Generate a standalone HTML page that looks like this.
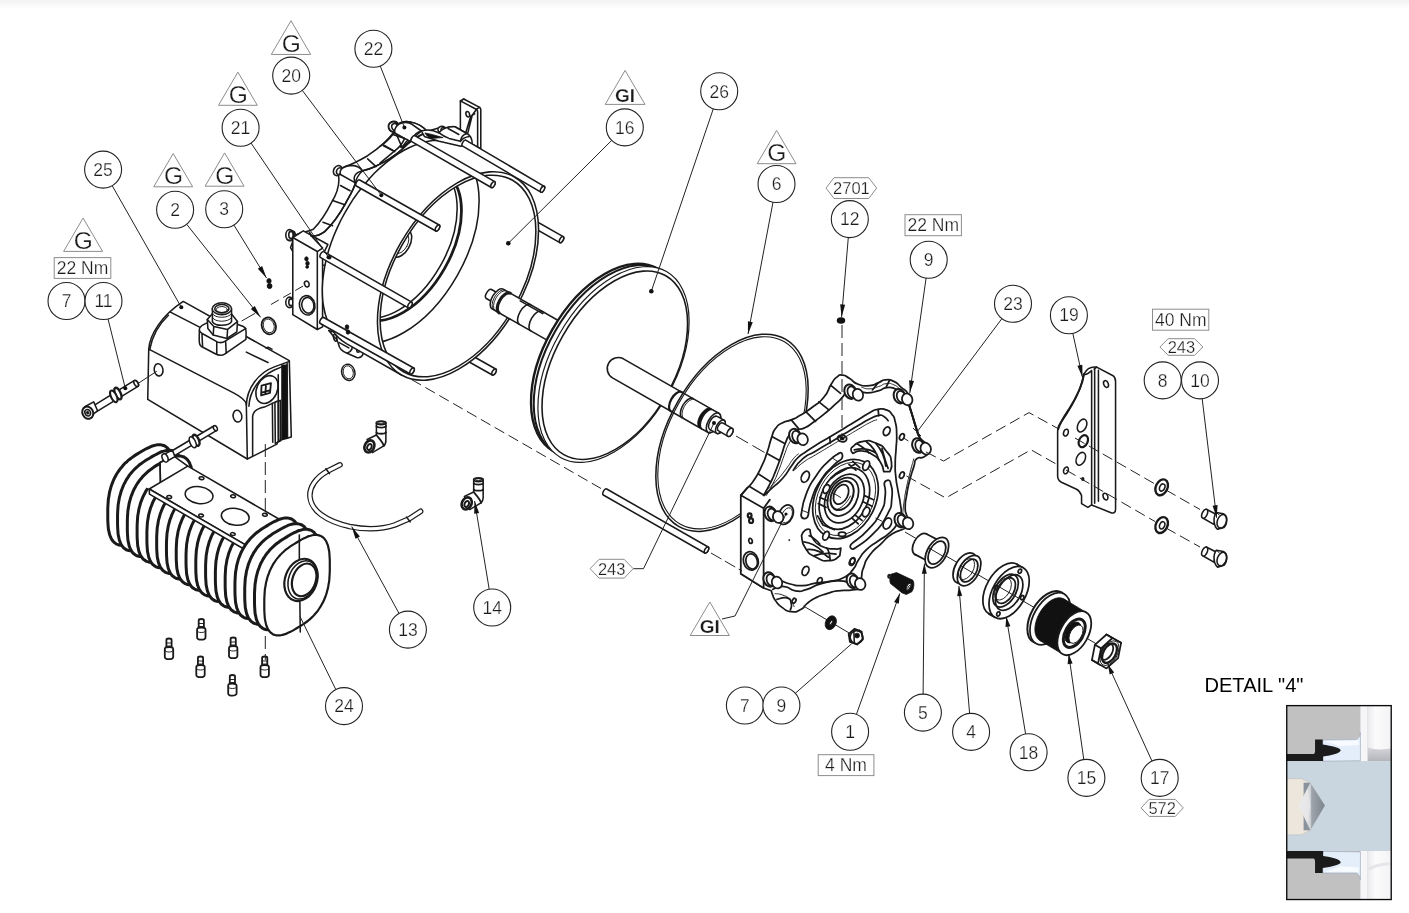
<!DOCTYPE html>
<html><head><meta charset="utf-8">
<style>
html,body{margin:0;padding:0;background:#fff;}
body{width:1409px;height:913px;overflow:hidden;position:relative;font-family:"Liberation Sans",sans-serif;}
svg{position:absolute;left:0;top:0;opacity:0.999;}
.top{position:absolute;left:0;top:0;width:1409px;height:9px;background:linear-gradient(#f2f2f2,#fff);}
text{font-family:"Liberation Sans",sans-serif;fill:#1c1c1c;}
.bl circle{fill:#fff;stroke:#222;stroke-width:1.1;}
.bl text{font-size:17.5px;text-anchor:middle;}
.tri polygon{fill:#fff;stroke:#8c8c8c;stroke-width:1;}
.tri text{font-size:24.5px;text-anchor:middle;}
.bl text,.tri text,.box text,.flag text{stroke:#fff;stroke-width:0.25px;}
.tri text.b{font-size:19px;font-weight:bold;}
.box rect,.flag polygon{fill:#fff;stroke:#8c8c8c;stroke-width:1;}
.box text{font-size:17.5px;text-anchor:middle;}
.flag text{font-size:16.5px;text-anchor:middle;}
.ld{stroke:#222;stroke-width:1;fill:none;}
.dot{fill:#111;}
.p{fill:#fff;stroke:#1a1a1a;stroke-width:1.55;stroke-linejoin:round;stroke-linecap:round;}
.n{fill:none;stroke:#1a1a1a;stroke-width:1.55;stroke-linejoin:round;stroke-linecap:round;}
.t{fill:none;stroke:#1a1a1a;stroke-width:0.95;stroke-linejoin:round;stroke-linecap:round;}
.k{fill:#111;stroke:#111;stroke-width:0.8;}
.n,.p,.t,.k,.ld{vector-effect:non-scaling-stroke;}
.n,.p,.t,.k,.ld{vector-effect:non-scaling-stroke;}
#cap .n,#cap .p{stroke-width:1.75;}
#chain .n,#chain .p{stroke-width:1.75;}
.ds{stroke:#222;stroke-width:1;fill:none;stroke-dasharray:11 5;}
</style></head><body>
<div class="top"></div>
<svg width="1409" height="913" viewBox="0 0 1409 913">
<g id="housing">
<path class="p" d="M518.3,219.0 L559.8,242.6 A1.70,3.40 29.6 0 0 563.2,236.6 L521.7,213.0 A1.70,3.40 29.6 0 0 518.3,219.0 Z"/><ellipse class="p" cx="561.5" cy="239.6" rx="1.70" ry="3.40" transform="rotate(29.6 561.5 239.6)"/>
<path class="p" d="M453.3,353.0 L492.3,375.0 A1.70,3.40 29.4 0 0 495.7,369.0 L456.7,347.0 A1.70,3.40 29.4 0 0 453.3,353.0 Z"/><ellipse class="p" cx="494.0" cy="372.0" rx="1.70" ry="3.40" transform="rotate(29.4 494.0 372.0)"/>
<g transform="translate(380,95) scale(0.09862)">
<path class="p" d="M815,60 L850,40 L1010,125 C1020,132 1022,140 1022,150 L1022,545 L985,525 L815,440 Z"/>
<path class="n" d="M815,60 L975,145 C985,150 990,158 990,170 L990,525 M850,40 L835,50 M975,145 C985,140 1000,130 1010,125"/>
<path class="n" d="M975,150 L935,205 L890,385 M960,190 L920,215 L870,380"/>
<ellipse class="n" cx="890" cy="195" rx="18" ry="28" transform="rotate(-15 890 195)"/>
</g>
<g transform="translate(280,90) scale(0.17525)">
<path class="p" d="M910,215 L840,235 C800,195 740,170 690,185 C660,195 650,215 650,240 C615,290 560,335 500,375 C440,410 395,430 365,440 C340,450 325,470 335,495 C340,540 325,590 295,640 C265,700 230,755 190,795 C150,812 110,815 85,830 L60,900 L120,1000 L420,1000 L900,500 Z"/>
<ellipse class="p" cx="648" cy="207" rx="24" ry="30" transform="rotate(30 648 207)"/><ellipse class="n" cx="656" cy="210" rx="15" ry="20" transform="rotate(30 656 210)"/>
<ellipse class="p" cx="330" cy="460" rx="24" ry="30" transform="rotate(30 330 460)"/><ellipse class="n" cx="338" cy="463" rx="15" ry="20" transform="rotate(30 338 463)"/>
<ellipse class="p" cx="62" cy="832" rx="24" ry="30" transform="rotate(30 62 832)"/><ellipse class="n" cx="70" cy="835" rx="15" ry="20" transform="rotate(30 70 835)"/>
<path class="p" d="M655,232 C660,195 700,175 740,182 C790,190 825,215 840,240 L770,275 C740,295 715,320 700,335 Z"/>
<path class="p" d="M345,482 C335,450 370,432 410,430 C440,432 460,445 470,462 C450,480 435,505 430,530 Z"/>
<path class="n" d="M840,240 C800,255 750,285 700,335 C660,372 600,410 540,438 C510,452 485,458 470,462"/>
<path class="n" d="M430,530 C425,560 400,600 375,645 C345,700 300,765 255,808 C225,830 195,835 175,832"/>
<path class="n" d="M590,318 L655,352 M500,393 L548,437 M345,545 L400,575 M300,630 L370,655 M245,755 L300,775"/>
<path class="n" d="M700,335 C705,300 730,280 770,268 M430,530 C415,500 425,470 470,462"/>
</g>
<g transform="translate(270,220) scale(0.17525)">
<ellipse class="p" cx="112" cy="85" rx="22" ry="30"/><ellipse class="n" cx="120" cy="85" rx="13" ry="20"/>
<ellipse class="p" cx="112" cy="470" rx="22" ry="30"/><ellipse class="n" cx="120" cy="470" rx="13" ry="20"/>
<path class="p" d="M130,100 L190,62 L330,140 L300,200 L300,610 L270,625 L130,540 Z"/>
<path class="n" d="M130,100 L270,180 L270,625 M270,180 L300,160 M225,70 L240,95 L300,160"/>
<ellipse class="n" cx="212" cy="487" rx="44" ry="56" transform="rotate(-12 212 487)"/><ellipse class="n" cx="216" cy="487" rx="34" ry="45" transform="rotate(-12 216 487)"/>
<ellipse class="n" cx="210" cy="365" rx="13" ry="17" transform="rotate(-20 210 365)"/>
<ellipse class="k" cx="208" cy="222" rx="10" ry="12"/><ellipse class="k" cx="214" cy="248" rx="10" ry="12"/><ellipse class="k" cx="212" cy="268" rx="8" ry="8"/>
<path class="p" d="M335,630 L370,640 L520,735 C545,760 525,790 495,785 L440,760 C410,750 395,735 390,705 L380,680 C360,670 355,650 335,630 Z"/>
<path class="n" d="M385,660 L465,705 C475,730 465,750 440,760 M395,700 L450,730 M495,745 a8,10 0 1 0 16,0 a8,10 0 1 0 -16,0"/>
<ellipse class="n" cx="372" cy="672" rx="9" ry="20" transform="rotate(-15 372 672)"/>
</g>
<path class="p" style="stroke:none" d="M459.3,145.5 L454.6,143.2 L449.6,141.6 L444.4,140.6 L438.8,140.2 L433.0,140.5 L427.1,141.4 L421.0,143.0 L414.8,145.2 L408.5,148.0 L402.2,151.4 L395.9,155.3 L389.6,159.8 L383.4,164.9 L377.3,170.4 L371.4,176.4 L365.7,182.8 L360.2,189.6 L355.0,196.7 L350.0,204.1 L345.4,211.8 L341.2,219.6 L337.3,227.7 L333.8,235.8 L330.8,244.0 L328.2,252.2 L326.0,260.3 L324.4,268.3 L323.2,276.2 L322.5,283.9 L322.3,291.4 L322.6,298.6 L323.4,305.4 L324.7,311.9 L326.4,317.9 L328.7,323.5 L331.4,328.6 L334.5,333.2 L338.1,337.2 L342.0,340.7 L346.4,343.6 L401.5,375.0 L400.6,243.2 L514.5,177.0 Z"/>
<path class="n" d="M448.5,141.3 L443.4,140.5 L438.2,140.2 L432.7,140.5 L427.1,141.4 L421.3,142.9 L415.5,144.9 L409.5,147.5 L403.6,150.5 L397.6,154.2 L391.7,158.3 L385.8,162.8 L380.0,167.9 L374.3,173.3 L368.8,179.2 L363.5,185.4 L358.4,191.9 L353.5,198.7 L349.0,205.8 L344.7,213.1 L340.7,220.5 L337.1,228.1 L333.8,235.8 L330.9,243.5 L328.4,251.3 L326.3,259.0 L324.7,266.6 L323.5,274.1 L322.7,281.4 L322.3,288.5 L322.4,295.4 L322.9,302.0 L323.9,308.3 L325.3,314.3 L327.1,319.8 L329.4,325.0 L332.0,329.7 L335.1,333.9 L338.5,337.6 L342.3,340.9 L346.4,343.6 L401.5,375.0"/>
<ellipse class="p" cx="458.0" cy="276.0" rx="66.12" ry="114.00" transform="rotate(29.7 458.0 276.0)" />
<clipPath id="clipf"><ellipse class="" cx="458.0" cy="276.0" rx="63.92" ry="110.20" transform="rotate(29.7 458.0 276.0)" /></clipPath>
<g clip-path="url(#clipf)">
<ellipse class="n" cx="402.8" cy="244.5" rx="62.64" ry="108.00" transform="rotate(29.7 402.8 244.5)" />
<ellipse class="n" cx="402.8" cy="244.5" rx="48.14" ry="83.00" transform="rotate(29.7 402.8 244.5)" style="stroke-width:2.8"/>
<ellipse class="n" cx="398.5" cy="242.1" rx="48.14" ry="83.00" transform="rotate(29.7 398.5 242.1)" />
<ellipse class="n" cx="401.1" cy="243.5" rx="8.70" ry="15.00" transform="rotate(29.7 401.1 243.5)" />
<ellipse class="t" cx="401.1" cy="243.5" rx="6.38" ry="11.00" transform="rotate(29.7 401.1 243.5)" />
</g>
<ellipse class="n" cx="458.0" cy="276.0" rx="63.92" ry="110.20" transform="rotate(29.7 458.0 276.0)" />
<g transform="translate(380,95) scale(0.09862)">
<path class="p" d="M420,365 C470,350 540,355 600,385 C610,350 660,320 760,322 L880,390 C920,410 935,450 935,495 L820,520 L600,470 L450,420 Z"/>
<ellipse class="p" cx="625" cy="348" rx="38" ry="30" transform="rotate(-20 625 348)"/><ellipse class="n" cx="640" cy="350" rx="22" ry="18" transform="rotate(-20 640 350)"/>
<path class="p" d="M600,385 C620,345 700,315 760,322 L880,390 C845,400 820,430 815,470 L700,440 C660,425 630,410 600,385 Z"/>
<path class="n" d="M690,340 L800,400 M815,470 C835,440 870,425 905,420"/>
<path class="k" d="M455,385 C500,390 560,410 640,432 L520,440 C490,430 470,410 455,385 Z"/>
<ellipse class="p" cx="135" cy="322" rx="48" ry="52" transform="rotate(-20 135 322)" style="stroke-width:2"/><ellipse class="n" cx="150" cy="325" rx="30" ry="36" transform="rotate(-20 150 325)"/>
<path class="p" d="M150,385 C140,340 170,295 230,282 C270,272 300,280 325,298 L420,365 C375,378 345,405 330,445 L300,470 C285,455 265,445 250,440 Z"/>
<path class="n" d="M150,385 L130,400 C90,450 40,495 0,520 M250,440 C230,490 180,545 140,575 L0,690 M130,400 L250,440 M45,510 L145,570 M300,470 C270,500 240,515 210,530"/>
</g>
<g transform="translate(280,90) scale(0.17525)">
<path class="n" d="M807,234 C780,255 745,290 700,335 C660,372 600,410 540,438 C510,452 485,458 465,462"/>
<path class="n" d="M430,530 C425,560 400,600 375,645 C345,700 300,765 255,808 C225,830 195,835 175,832"/>
</g>
<path class="p" d="M462.3,145.9 L540.8,192.1 A1.70,3.40 30.5 0 0 544.2,186.3 L465.7,140.1 A1.70,3.40 30.5 0 0 462.3,145.9 Z"/><ellipse class="p" cx="542.5" cy="189.2" rx="1.70" ry="3.40" transform="rotate(30.5 542.5 189.2)"/>
<path class="p" d="M411.3,141.4 L491.3,187.5 A1.70,3.40 30.0 0 0 494.7,181.7 L414.7,135.6 A1.70,3.40 30.0 0 0 411.3,141.4 Z"/><ellipse class="p" cx="493.0" cy="184.6" rx="1.70" ry="3.40" transform="rotate(30.0 493.0 184.6)"/>
<path class="p" d="M356.3,186.0 L435.8,231.0 A1.70,3.40 29.5 0 0 439.2,225.0 L359.7,180.0 A1.70,3.40 29.5 0 0 356.3,186.0 Z"/><ellipse class="p" cx="437.5" cy="228.0" rx="1.70" ry="3.40" transform="rotate(29.5 437.5 228.0)"/>
<path class="p" d="M320.3,257.4 L408.3,307.9 A1.70,3.40 29.8 0 0 411.7,302.1 L323.7,251.6 A1.70,3.40 29.8 0 0 320.3,257.4 Z"/><ellipse class="p" cx="410.0" cy="305.0" rx="1.70" ry="3.40" transform="rotate(29.8 410.0 305.0)"/>
<path class="p" d="M320.3,323.5 L410.3,374.0 A1.70,3.40 29.3 0 0 413.7,368.0 L323.7,317.5 A1.70,3.40 29.3 0 0 320.3,323.5 Z"/><ellipse class="p" cx="412.0" cy="371.0" rx="1.70" ry="3.40" transform="rotate(29.3 412.0 371.0)"/>
<circle class="k" cx="329.5" cy="257.5" r="1.6"/>
<ellipse class="k" cx="347" cy="327" rx="1.8" ry="2.2"/><ellipse class="k" cx="348" cy="332" rx="1.8" ry="2.2"/>
<ellipse class="n" cx="348.3" cy="372.3" rx="6.6" ry="8.2" transform="rotate(-15 348.3 372.3)" style="stroke-width:1.5"/><ellipse class="t" cx="348.3" cy="372.3" rx="5" ry="6.6" transform="rotate(-15 348.3 372.3)"/>
</g><g id="piston">
<path class="p"  d="M504.1,296.7 L491.5,289.5 A2.60,5.20 29.7 0 0 486.3,298.5 L498.9,305.7"/>
<path class="p"  d="M567.9,326.0 L503.2,289.1 A5.65,11.30 29.7 0 0 492.0,308.8 L556.7,345.7"/>
<path class="t"  d="M504.8,290.0 A5.65,11.30 29.7 0 0 493.6,309.6"/><path class="t"  d="M506.2,290.9 A5.65,11.30 29.7 0 0 495.0,310.5"/>
<path class="n" style="stroke-width:3.2" d="M510.1,293.1 A5.65,11.30 29.7 0 0 498.9,312.7"/>
<path class="n"  d="M530.6,304.7 A5.65,11.30 29.7 0 0 519.4,324.4"/><path class="n"  d="M541.8,311.2 A5.65,11.30 29.7 0 0 530.6,330.8"/>
<path class="n" d="M520.2,300.8 L542.7,313.6 L543.6,312.2"/>
<ellipse class="p" cx="605.2" cy="359.8" rx="60.90" ry="105.00" transform="rotate(29.7 605.2 359.8)" style="stroke-width:2.4"/>
<ellipse class="p" cx="608.3" cy="361.5" rx="61.19" ry="105.50" transform="rotate(29.7 608.3 361.5)" style="stroke-width:2.0"/>
<ellipse class="p" cx="613.5" cy="364.5" rx="62.06" ry="107.00" transform="rotate(29.7 613.5 364.5)" style="stroke-width:1.2"/>
<ellipse class="p" cx="614.8" cy="365.2" rx="59.74" ry="103.00" transform="rotate(29.7 614.8 365.2)" style="stroke-width:1.6"/>
<path class="p" d="M623.4,358.8 L712.8,409.9 L701.9,429.0 L612.5,377.9 A11,11 0 0 1 623.4,358.8 Z"/>
<path class="n" style="stroke-width:2.2" d="M681.6,392.0 A5.50,11.00 29.7 0 0 670.7,411.1"/>
<path class="n"  d="M692.9,398.5 A5.50,11.00 29.7 0 0 682.0,417.6"/><path class="t"  d="M694.6,399.4 A5.50,11.00 29.7 0 0 683.7,418.6"/>
<path class="k" d="M699.3,427.5 L701.9,429.0 A5.50,11.00 29.7 0 0 712.8,409.9 L710.2,408.4 A5.50,11.00 29.7 0 0 699.3,427.5 Z"/><ellipse class="k" cx="707.4" cy="419.4" rx="5.50" ry="11.00" transform="rotate(29.7 707.4 419.4)"/>
<path class="p" d="M701.9,429.0 L708.0,432.4 A5.50,11.00 29.7 0 0 718.9,413.3 L712.8,409.9 A5.50,11.00 29.7 0 0 701.9,429.0 Z"/><ellipse class="p" cx="713.5" cy="422.9" rx="5.50" ry="11.00" transform="rotate(29.7 713.5 422.9)"/>
<path class="p" d="M709.7,429.4 L716.7,433.4 A3.75,7.50 29.7 0 0 724.1,420.3 L717.2,416.4 A3.75,7.50 29.7 0 0 709.7,429.4 Z"/><ellipse class="p" cx="720.4" cy="426.8" rx="3.75" ry="7.50" transform="rotate(29.7 720.4 426.8)"/>
<path class="p" d="M718.2,430.7 L727.7,436.2 A2.48,4.50 29.7 0 0 732.2,428.4 L722.6,422.9 A2.48,4.50 29.7 0 0 718.2,430.7 Z"/><ellipse class="p" cx="730.0" cy="432.3" rx="2.48" ry="4.50" transform="rotate(29.7 730.0 432.3)"/>
</g>
<ellipse class="n" cx="732.0" cy="432.8" rx="62.52" ry="107.80" transform="rotate(29.7 732.0 432.8)" /><ellipse class="n" cx="732.0" cy="432.8" rx="60.90" ry="105.00" transform="rotate(29.7 732.0 432.8)" style="stroke-width:1.1"/>
<path class="p" d="M603.3,495.0 L704.8,553.0 A1.70,3.40 29.7 0 0 708.2,547.0 L606.7,489.0 A1.70,3.40 29.7 0 0 603.3,495.0 Z"/><ellipse class="p" cx="706.5" cy="550.0" rx="1.70" ry="3.40" transform="rotate(29.7 706.5 550.0)"/><g id="box25" transform="translate(130,290) scale(0.19716)">
<!-- body -->
<path class="p" d="M95,300 C100,225 160,130 270,58 L808,358 L818,745 L752,765 L745,782 L640,835 L595,857 L90,555 Z"/>
<path class="n" d="M95,300 L525,522 C560,540 582,555 590,578 L595,857"/>
<path class="n" d="M590,585 C592,500 650,420 732,390 L808,362"/>
<path class="n" d="M603,590 C606,510 660,440 732,406 L767,391"/>
<path class="n" d="M195,128 C150,170 112,235 100,303 M205,112 L385,205 M590,315 L700,368 M690,295 L700,290 L720,300"/>
<ellipse class="n" cx="145" cy="405" rx="22" ry="31" transform="rotate(-10 145 405)"/>
<ellipse class="n" cx="545" cy="640" rx="22" ry="30" transform="rotate(-10 545 640)"/>
<ellipse class="n" cx="695" cy="505" rx="52" ry="74" transform="rotate(25 695 505)"/>
<path class="n" style="stroke-width:1.8" d="M667,485 L715,472 L710,522 L665,535 Z M690,480 L686,528 M668,520 L712,508"/>
<path class="n" d="M622,842 L622,640 C625,612 650,600 682,594 L722,575 L742,566"/>
<path class="n" d="M722,575 L724,772 M735,570 L737,778 M752,566 L754,770 M742,566 L762,560 L764,765 L737,778"/>
<rect x="767" y="378" width="30" height="378" fill="#111"/>
<path class="n" d="M752,430 L752,760 M797,372 L799,752"/>
<!-- gland -->
<path class="p" d="M352,200 C352,185 365,180 380,172 L450,140 L575,185 C590,192 590,205 588,250 L480,325 C465,335 445,330 430,322 L360,285 C350,278 350,265 352,200 Z"/>
<path class="n" d="M352,205 C356,215 365,220 380,228 L440,262 C455,270 470,268 485,258 L588,195 M440,262 L440,325 M365,222 L368,285 M485,258 L488,320"/>
<path class="p" d="M392,150 L420,118 L515,122 L545,160 L542,212 L492,246 L422,228 L395,195 Z"/>
<path class="n" d="M392,150 L425,185 L495,200 L545,160 M425,185 L422,228 M495,200 L492,246"/>
<path class="p" d="M418,95 L418,160 C430,185 500,185 515,160 L515,95 Z"/>
<ellipse class="p" cx="466" cy="95" rx="49" ry="30"/>
<ellipse class="n" cx="466" cy="95" rx="36" ry="21"/>
<ellipse class="t" cx="466" cy="99" rx="28" ry="15"/>
<path class="t" d="M418,120 C430,145 500,145 515,120 M418,140 C430,165 500,165 515,140"/>
</g>
<g id="sil" transform="translate(95,430) scale(0.24096)">
<clipPath id="clipsil"><path d="M-300,-60 L225,245 L630,480 L1200,811 L1200,1100 L-300,1100 Z"/></clipPath>
<path class="p" style="stroke-width:3.0" d="M324.8,189.0 C324.8,219.0 325.2,209.0 323.5,234.8 C321.9,260.6 323.1,246.5 319.8,266.5 C316.5,286.5 318.6,276.7 313.6,294.8 C308.7,312.9 311.6,304.1 305.0,320.8 C298.5,337.5 302.2,329.4 294.0,345.0 C285.9,360.5 290.4,353.0 280.6,367.4 C270.8,381.8 276.2,374.8 264.6,388.1 C253.0,401.4 259.6,394.9 245.8,407.3 C232.1,419.8 242.3,412.2 223.3,425.6 C204.3,439.0 211.8,434.0 188.9,447.6 C166.0,461.2 173.5,457.3 154.5,466.4 C135.5,475.5 145.7,471.0 132.0,474.9 C118.2,478.7 124.8,477.5 113.2,477.9 C101.6,478.3 107.0,478.9 97.2,476.1 C87.4,473.3 91.9,475.5 83.8,469.6 C75.6,463.8 79.3,467.5 72.8,458.6 C66.2,449.6 69.1,455.0 64.2,442.7 C59.2,430.5 61.3,437.9 58.0,421.8 C54.7,405.7 55.9,418.4 54.3,394.5 C52.6,370.6 53.0,380.2 53.0,350.2 C53.0,320.2 52.6,330.2 54.3,304.4 C55.9,278.6 54.7,292.7 58.0,272.7 C61.3,252.7 59.2,262.5 64.2,244.4 C69.1,226.3 66.2,235.1 72.8,218.4 C79.3,201.7 75.6,209.8 83.8,194.2 C91.9,178.7 87.4,186.2 97.2,171.8 C107.0,157.4 101.6,164.4 113.2,151.1 C124.8,137.8 118.2,144.3 132.0,131.9 C145.7,119.4 135.5,127.0 154.5,113.6 C173.5,100.2 166.0,105.2 188.9,91.6 C211.8,78.0 204.3,81.9 223.3,72.8 C242.3,63.7 232.1,68.2 245.8,64.3 C259.6,60.5 253.0,61.7 264.6,61.3 C276.2,60.9 270.8,60.3 280.6,63.1 C290.4,65.9 285.9,63.7 294.0,69.6 C302.2,75.4 298.5,71.7 305.0,80.6 C311.6,89.6 308.7,84.2 313.6,96.5 C318.6,108.7 316.5,101.3 319.8,117.4 C323.1,133.5 321.9,120.8 323.5,144.7 C325.2,168.6 324.8,159.0 324.8,189.0 Z"/>
<path class="p" style="stroke-width:3.0" d="M365.4,212.4 C365.4,242.4 365.8,232.4 364.1,258.2 C362.5,284.0 363.7,269.9 360.4,289.9 C357.1,309.9 359.2,300.1 354.2,318.2 C349.3,336.3 352.2,327.5 345.6,344.2 C339.1,360.9 342.8,352.8 334.6,368.4 C326.5,383.9 331.0,376.4 321.2,390.8 C311.4,405.2 316.8,398.2 305.2,411.5 C293.6,424.8 300.2,418.3 286.4,430.7 C272.7,443.2 282.9,435.6 263.9,449.0 C244.9,462.4 252.4,457.4 229.5,471.0 C206.6,484.6 214.1,480.7 195.1,489.8 C176.1,498.9 186.3,494.4 172.6,498.3 C158.8,502.1 165.4,500.9 153.8,501.3 C142.2,501.7 147.6,502.3 137.8,499.5 C128.0,496.7 132.5,498.9 124.4,493.0 C116.2,487.2 119.9,490.9 113.4,482.0 C106.8,473.0 109.7,478.4 104.8,466.1 C99.8,453.9 101.9,461.3 98.6,445.2 C95.3,429.1 96.5,441.8 94.9,417.9 C93.2,394.0 93.6,403.6 93.6,373.6 C93.6,343.6 93.2,353.6 94.9,327.8 C96.5,302.0 95.3,316.1 98.6,296.1 C101.9,276.1 99.8,285.9 104.8,267.8 C109.7,249.7 106.8,258.5 113.4,241.8 C119.9,225.1 116.2,233.2 124.4,217.6 C132.5,202.1 128.0,209.6 137.8,195.2 C147.6,180.8 142.2,187.8 153.8,174.5 C165.4,161.2 158.8,167.7 172.6,155.3 C186.3,142.8 176.1,150.4 195.1,137.0 C214.1,123.6 206.6,128.6 229.5,115.0 C252.4,101.4 244.9,105.3 263.9,96.2 C282.9,87.1 272.7,91.6 286.4,87.7 C300.2,83.9 293.6,85.1 305.2,84.7 C316.8,84.3 311.4,83.7 321.2,86.5 C331.0,89.3 326.5,87.1 334.6,93.0 C342.8,98.8 339.1,95.1 345.6,104.0 C352.2,113.0 349.3,107.6 354.2,119.9 C359.2,132.1 357.1,124.7 360.4,140.8 C363.7,156.9 362.5,144.2 364.1,168.1 C365.8,192.0 365.4,182.4 365.4,212.4 Z"/>
<path class="p" style="stroke-width:3.0" d="M406.0,235.8 C406.0,265.8 406.4,255.8 404.7,281.6 C403.1,307.4 404.3,293.3 401.0,313.3 C397.7,333.3 399.8,323.5 394.8,341.6 C389.9,359.7 392.8,350.9 386.2,367.6 C379.7,384.3 383.4,376.2 375.2,391.8 C367.1,407.3 371.6,399.8 361.8,414.2 C352.0,428.6 357.4,421.6 345.8,434.9 C334.2,448.2 340.8,441.7 327.0,454.1 C313.3,466.6 323.5,459.0 304.5,472.4 C285.5,485.8 293.0,480.8 270.1,494.4 C247.2,508.0 254.7,504.1 235.7,513.2 C216.7,522.3 226.9,517.8 213.2,521.7 C199.4,525.5 206.0,524.3 194.4,524.7 C182.8,525.1 188.2,525.7 178.4,522.9 C168.6,520.1 173.1,522.3 165.0,516.4 C156.8,510.6 160.5,514.3 154.0,505.4 C147.4,496.4 150.3,501.8 145.4,489.5 C140.4,477.3 142.5,484.7 139.2,468.6 C135.9,452.5 137.1,465.2 135.5,441.3 C133.8,417.4 134.2,427.0 134.2,397.0 C134.2,367.0 133.8,377.0 135.5,351.2 C137.1,325.4 135.9,339.5 139.2,319.5 C142.5,299.5 140.4,309.3 145.4,291.2 C150.3,273.1 147.4,281.9 154.0,265.2 C160.5,248.5 156.8,256.6 165.0,241.0 C173.1,225.5 168.6,233.0 178.4,218.6 C188.2,204.2 182.8,211.2 194.4,197.9 C206.0,184.6 199.4,191.1 213.2,178.7 C226.9,166.2 216.7,173.8 235.7,160.4 C254.7,147.0 247.2,152.0 270.1,138.4 C293.0,124.8 285.5,128.7 304.5,119.6 C323.5,110.5 313.3,115.0 327.0,111.1 C340.8,107.3 334.2,108.5 345.8,108.1 C357.4,107.7 352.0,107.1 361.8,109.9 C371.6,112.7 367.1,110.5 375.2,116.4 C383.4,122.2 379.7,118.5 386.2,127.4 C392.8,136.4 389.9,131.0 394.8,143.3 C399.8,155.5 397.7,148.1 401.0,164.2 C404.3,180.3 403.1,167.6 404.7,191.5 C406.4,215.4 406.0,205.8 406.0,235.8 Z"/>
<g clip-path="url(#clipsil)">
<path class="p" style="stroke-width:3.0" d="M446.6,259.2 C446.6,289.2 447.0,279.2 445.3,305.0 C443.7,330.8 444.9,316.7 441.6,336.7 C438.3,356.7 440.4,346.9 435.4,365.0 C430.5,383.1 433.4,374.3 426.8,391.0 C420.3,407.7 424.0,399.6 415.8,415.2 C407.7,430.7 412.2,423.2 402.4,437.6 C392.6,452.0 398.0,445.0 386.4,458.3 C374.8,471.6 381.4,465.1 367.6,477.5 C353.9,490.0 364.1,482.4 345.1,495.8 C326.1,509.2 333.6,504.2 310.7,517.8 C287.8,531.4 295.3,527.5 276.3,536.6 C257.3,545.7 267.5,541.2 253.8,545.1 C240.0,548.9 246.6,547.7 235.0,548.1 C223.4,548.5 228.8,549.1 219.0,546.3 C209.2,543.5 213.7,545.7 205.6,539.8 C197.4,534.0 201.1,537.7 194.6,528.8 C188.0,519.8 190.9,525.2 186.0,512.9 C181.0,500.7 183.1,508.1 179.8,492.0 C176.5,475.9 177.7,488.6 176.1,464.7 C174.4,440.8 174.8,450.4 174.8,420.4 C174.8,390.4 174.4,400.4 176.1,374.6 C177.7,348.8 176.5,362.9 179.8,342.9 C183.1,322.9 181.0,332.7 186.0,314.6 C190.9,296.5 188.0,305.3 194.6,288.6 C201.1,271.9 197.4,280.0 205.6,264.4 C213.7,248.9 209.2,256.4 219.0,242.0 C228.8,227.6 223.4,234.6 235.0,221.3 C246.6,208.0 240.0,214.5 253.8,202.1 C267.5,189.6 257.3,197.2 276.3,183.8 C295.3,170.4 287.8,175.4 310.7,161.8 C333.6,148.2 326.1,152.1 345.1,143.0 C364.1,133.9 353.9,138.4 367.6,134.5 C381.4,130.7 374.8,131.9 386.4,131.5 C398.0,131.1 392.6,130.5 402.4,133.3 C412.2,136.1 407.7,133.9 415.8,139.8 C424.0,145.6 420.3,141.9 426.8,150.8 C433.4,159.8 430.5,154.4 435.4,166.7 C440.4,178.9 438.3,171.5 441.6,187.6 C444.9,203.7 443.7,191.0 445.3,214.9 C447.0,238.8 446.6,229.2 446.6,259.2 Z"/>
<path class="p" style="stroke-width:3.0" d="M487.2,282.6 C487.2,312.6 487.6,302.6 485.9,328.4 C484.3,354.2 485.5,340.1 482.2,360.1 C478.9,380.1 481.0,370.3 476.0,388.4 C471.1,406.5 474.0,397.7 467.4,414.4 C460.9,431.1 464.6,423.0 456.4,438.6 C448.3,454.1 452.8,446.6 443.0,461.0 C433.2,475.4 438.6,468.4 427.0,481.7 C415.4,495.0 422.0,488.5 408.2,500.9 C394.5,513.4 404.7,505.8 385.7,519.2 C366.7,532.6 374.2,527.6 351.3,541.2 C328.4,554.8 335.9,550.9 316.9,560.0 C297.9,569.1 308.1,564.6 294.4,568.5 C280.6,572.3 287.2,571.1 275.6,571.5 C264.0,571.9 269.4,572.5 259.6,569.7 C249.8,566.9 254.3,569.1 246.2,563.2 C238.0,557.4 241.7,561.1 235.2,552.2 C228.6,543.2 231.5,548.6 226.6,536.3 C221.6,524.1 223.7,531.5 220.4,515.4 C217.1,499.3 218.3,512.0 216.7,488.1 C215.0,464.2 215.4,473.8 215.4,443.8 C215.4,413.8 215.0,423.8 216.7,398.0 C218.3,372.2 217.1,386.3 220.4,366.3 C223.7,346.3 221.6,356.1 226.6,338.0 C231.5,319.9 228.6,328.7 235.2,312.0 C241.7,295.3 238.0,303.4 246.2,287.8 C254.3,272.3 249.8,279.8 259.6,265.4 C269.4,251.0 264.0,258.0 275.6,244.7 C287.2,231.4 280.6,237.9 294.4,225.5 C308.1,213.0 297.9,220.6 316.9,207.2 C335.9,193.8 328.4,198.8 351.3,185.2 C374.2,171.6 366.7,175.5 385.7,166.4 C404.7,157.3 394.5,161.8 408.2,157.9 C422.0,154.1 415.4,155.3 427.0,154.9 C438.6,154.5 433.2,153.9 443.0,156.7 C452.8,159.5 448.3,157.3 456.4,163.2 C464.6,169.0 460.9,165.3 467.4,174.2 C474.0,183.2 471.1,177.8 476.0,190.1 C481.0,202.3 478.9,194.9 482.2,211.0 C485.5,227.1 484.3,214.4 485.9,238.3 C487.6,262.2 487.2,252.6 487.2,282.6 Z"/>
<path class="p" style="stroke-width:3.0" d="M527.8,306.0 C527.8,336.0 528.2,326.0 526.5,351.8 C524.9,377.6 526.1,363.5 522.8,383.5 C519.5,403.5 521.6,393.7 516.6,411.8 C511.7,429.9 514.6,421.1 508.0,437.8 C501.5,454.5 505.2,446.4 497.0,462.0 C488.9,477.5 493.4,470.0 483.6,484.4 C473.8,498.8 479.2,491.8 467.6,505.1 C456.0,518.4 462.6,511.9 448.8,524.3 C435.1,536.8 445.3,529.2 426.3,542.6 C407.3,556.0 414.8,551.0 391.9,564.6 C369.0,578.2 376.5,574.3 357.5,583.4 C338.5,592.5 348.7,588.0 335.0,591.9 C321.2,595.7 327.8,594.5 316.2,594.9 C304.6,595.3 310.0,595.9 300.2,593.1 C290.4,590.3 294.9,592.5 286.8,586.6 C278.6,580.8 282.3,584.5 275.8,575.6 C269.2,566.6 272.1,572.0 267.2,559.7 C262.2,547.5 264.3,554.9 261.0,538.8 C257.7,522.7 258.9,535.4 257.3,511.5 C255.6,487.6 256.0,497.2 256.0,467.2 C256.0,437.2 255.6,447.2 257.3,421.4 C258.9,395.6 257.7,409.7 261.0,389.7 C264.3,369.7 262.2,379.5 267.2,361.4 C272.1,343.3 269.2,352.1 275.8,335.4 C282.3,318.7 278.6,326.8 286.8,311.2 C294.9,295.7 290.4,303.2 300.2,288.8 C310.0,274.4 304.6,281.4 316.2,268.1 C327.8,254.8 321.2,261.3 335.0,248.9 C348.7,236.4 338.5,244.0 357.5,230.6 C376.5,217.2 369.0,222.2 391.9,208.6 C414.8,195.0 407.3,198.9 426.3,189.8 C445.3,180.7 435.1,185.2 448.8,181.3 C462.6,177.5 456.0,178.7 467.6,178.3 C479.2,177.9 473.8,177.3 483.6,180.1 C493.4,182.9 488.9,180.7 497.0,186.6 C505.2,192.4 501.5,188.7 508.0,197.6 C514.6,206.6 511.7,201.2 516.6,213.5 C521.6,225.7 519.5,218.3 522.8,234.4 C526.1,250.5 524.9,237.8 526.5,261.7 C528.2,285.6 527.8,276.0 527.8,306.0 Z"/>
<path class="p" style="stroke-width:3.0" d="M568.4,329.4 C568.4,359.4 568.8,349.4 567.1,375.2 C565.5,401.0 566.7,386.9 563.4,406.9 C560.1,426.9 562.2,417.1 557.2,435.2 C552.3,453.3 555.2,444.5 548.6,461.2 C542.1,477.9 545.8,469.8 537.6,485.4 C529.5,500.9 534.0,493.4 524.2,507.8 C514.4,522.2 519.8,515.2 508.2,528.5 C496.6,541.8 503.2,535.3 489.4,547.7 C475.7,560.2 485.9,552.6 466.9,566.0 C447.9,579.4 455.4,574.4 432.5,588.0 C409.6,601.6 417.1,597.7 398.1,606.8 C379.1,615.9 389.3,611.4 375.6,615.3 C361.8,619.1 368.4,617.9 356.8,618.3 C345.2,618.7 350.6,619.3 340.8,616.5 C331.0,613.7 335.5,615.9 327.4,610.0 C319.2,604.2 322.9,607.9 316.4,599.0 C309.8,590.0 312.7,595.4 307.8,583.1 C302.8,570.9 304.9,578.3 301.6,562.2 C298.3,546.1 299.5,558.8 297.9,534.9 C296.2,511.0 296.6,520.6 296.6,490.6 C296.6,460.6 296.2,470.6 297.9,444.8 C299.5,419.0 298.3,433.1 301.6,413.1 C304.9,393.1 302.8,402.9 307.8,384.8 C312.7,366.7 309.8,375.5 316.4,358.8 C322.9,342.1 319.2,350.2 327.4,334.6 C335.5,319.1 331.0,326.6 340.8,312.2 C350.6,297.8 345.2,304.8 356.8,291.5 C368.4,278.2 361.8,284.7 375.6,272.3 C389.3,259.8 379.1,267.4 398.1,254.0 C417.1,240.6 409.6,245.6 432.5,232.0 C455.4,218.4 447.9,222.3 466.9,213.2 C485.9,204.1 475.7,208.6 489.4,204.7 C503.2,200.9 496.6,202.1 508.2,201.7 C519.8,201.3 514.4,200.7 524.2,203.5 C534.0,206.3 529.5,204.1 537.6,210.0 C545.8,215.8 542.1,212.1 548.6,221.0 C555.2,230.0 552.3,224.6 557.2,236.9 C562.2,249.1 560.1,241.7 563.4,257.8 C566.7,273.9 565.5,261.2 567.1,285.1 C568.8,309.0 568.4,299.4 568.4,329.4 Z"/>
<path class="p" style="stroke-width:3.0" d="M609.0,352.8 C609.0,382.8 609.4,372.8 607.7,398.6 C606.1,424.4 607.3,410.3 604.0,430.3 C600.7,450.3 602.8,440.5 597.8,458.6 C592.9,476.7 595.8,467.9 589.2,484.6 C582.7,501.3 586.4,493.2 578.2,508.8 C570.1,524.3 574.6,516.8 564.8,531.2 C555.0,545.6 560.4,538.6 548.8,551.9 C537.2,565.2 543.8,558.7 530.0,571.1 C516.3,583.6 526.5,576.0 507.5,589.4 C488.5,602.8 496.0,597.8 473.1,611.4 C450.2,625.0 457.7,621.1 438.7,630.2 C419.7,639.3 429.9,634.8 416.2,638.7 C402.4,642.5 409.0,641.3 397.4,641.7 C385.8,642.1 391.2,642.7 381.4,639.9 C371.6,637.1 376.1,639.3 368.0,633.4 C359.8,627.6 363.5,631.3 357.0,622.4 C350.4,613.4 353.3,618.8 348.4,606.5 C343.4,594.3 345.5,601.7 342.2,585.6 C338.9,569.5 340.1,582.2 338.5,558.3 C336.8,534.4 337.2,544.0 337.2,514.0 C337.2,484.0 336.8,494.0 338.5,468.2 C340.1,442.4 338.9,456.5 342.2,436.5 C345.5,416.5 343.4,426.3 348.4,408.2 C353.3,390.1 350.4,398.9 357.0,382.2 C363.5,365.5 359.8,373.6 368.0,358.0 C376.1,342.5 371.6,350.0 381.4,335.6 C391.2,321.2 385.8,328.2 397.4,314.9 C409.0,301.6 402.4,308.1 416.2,295.7 C429.9,283.2 419.7,290.8 438.7,277.4 C457.7,264.0 450.2,269.0 473.1,255.4 C496.0,241.8 488.5,245.7 507.5,236.6 C526.5,227.5 516.3,232.0 530.0,228.1 C543.8,224.3 537.2,225.5 548.8,225.1 C560.4,224.7 555.0,224.1 564.8,226.9 C574.6,229.7 570.1,227.5 578.2,233.4 C586.4,239.2 582.7,235.5 589.2,244.4 C595.8,253.4 592.9,248.0 597.8,260.3 C602.8,272.5 600.7,265.1 604.0,281.2 C607.3,297.3 606.1,284.6 607.7,308.5 C609.4,332.4 609.0,322.8 609.0,352.8 Z"/>
<path class="p" style="stroke-width:3.0" d="M649.6,376.2 C649.6,406.2 650.0,396.2 648.3,422.0 C646.7,447.8 647.9,433.7 644.6,453.7 C641.3,473.7 643.4,463.9 638.4,482.0 C633.5,500.1 636.4,491.3 629.8,508.0 C623.3,524.7 627.0,516.6 618.8,532.2 C610.7,547.7 615.2,540.2 605.4,554.6 C595.6,569.0 601.0,562.0 589.4,575.3 C577.8,588.6 584.4,582.1 570.6,594.5 C556.9,607.0 567.1,599.4 548.1,612.8 C529.1,626.2 536.6,621.2 513.7,634.8 C490.8,648.4 498.3,644.5 479.3,653.6 C460.3,662.7 470.5,658.2 456.8,662.1 C443.0,665.9 449.6,664.7 438.0,665.1 C426.4,665.5 431.8,666.1 422.0,663.3 C412.2,660.5 416.7,662.7 408.6,656.8 C400.4,651.0 404.1,654.7 397.6,645.8 C391.0,636.8 393.9,642.2 389.0,629.9 C384.0,617.7 386.1,625.1 382.8,609.0 C379.5,592.9 380.7,605.6 379.1,581.7 C377.4,557.8 377.8,567.4 377.8,537.4 C377.8,507.4 377.4,517.4 379.1,491.6 C380.7,465.8 379.5,479.9 382.8,459.9 C386.1,439.9 384.0,449.7 389.0,431.6 C393.9,413.5 391.0,422.3 397.6,405.6 C404.1,388.9 400.4,397.0 408.6,381.4 C416.7,365.9 412.2,373.4 422.0,359.0 C431.8,344.6 426.4,351.6 438.0,338.3 C449.6,325.0 443.0,331.5 456.8,319.1 C470.5,306.6 460.3,314.2 479.3,300.8 C498.3,287.4 490.8,292.4 513.7,278.8 C536.6,265.2 529.1,269.1 548.1,260.0 C567.1,250.9 556.9,255.4 570.6,251.5 C584.4,247.7 577.8,248.9 589.4,248.5 C601.0,248.1 595.6,247.5 605.4,250.3 C615.2,253.1 610.7,250.9 618.8,256.8 C627.0,262.6 623.3,258.9 629.8,267.8 C636.4,276.8 633.5,271.4 638.4,283.7 C643.4,295.9 641.3,288.5 644.6,304.6 C647.9,320.7 646.7,308.0 648.3,331.9 C650.0,355.8 649.6,346.2 649.6,376.2 Z"/>
<path class="p" style="stroke-width:3.0" d="M690.2,399.6 C690.2,429.6 690.6,419.6 688.9,445.4 C687.3,471.2 688.5,457.1 685.2,477.1 C681.9,497.1 684.0,487.3 679.0,505.4 C674.1,523.5 677.0,514.7 670.4,531.4 C663.9,548.1 667.6,540.0 659.4,555.6 C651.3,571.1 655.8,563.6 646.0,578.0 C636.2,592.4 641.6,585.4 630.0,598.7 C618.4,612.0 625.0,605.5 611.2,617.9 C597.5,630.4 607.7,622.8 588.7,636.2 C569.7,649.6 577.2,644.6 554.3,658.2 C531.4,671.8 538.9,667.9 519.9,677.0 C500.9,686.1 511.1,681.6 497.4,685.5 C483.6,689.3 490.2,688.1 478.6,688.5 C467.0,688.9 472.4,689.5 462.6,686.7 C452.8,683.9 457.3,686.1 449.2,680.2 C441.0,674.4 444.7,678.1 438.2,669.2 C431.6,660.2 434.5,665.6 429.6,653.3 C424.6,641.1 426.7,648.5 423.4,632.4 C420.1,616.3 421.3,629.0 419.7,605.1 C418.0,581.2 418.4,590.8 418.4,560.8 C418.4,530.8 418.0,540.8 419.7,515.0 C421.3,489.2 420.1,503.3 423.4,483.3 C426.7,463.3 424.6,473.1 429.6,455.0 C434.5,436.9 431.6,445.7 438.2,429.0 C444.7,412.3 441.0,420.4 449.2,404.8 C457.3,389.3 452.8,396.8 462.6,382.4 C472.4,368.0 467.0,375.0 478.6,361.7 C490.2,348.4 483.6,354.9 497.4,342.5 C511.1,330.0 500.9,337.6 519.9,324.2 C538.9,310.8 531.4,315.8 554.3,302.2 C577.2,288.6 569.7,292.5 588.7,283.4 C607.7,274.3 597.5,278.8 611.2,274.9 C625.0,271.1 618.4,272.3 630.0,271.9 C641.6,271.5 636.2,270.9 646.0,273.7 C655.8,276.5 651.3,274.3 659.4,280.2 C667.6,286.0 663.9,282.3 670.4,291.2 C677.0,300.2 674.1,294.8 679.0,307.1 C684.0,319.3 681.9,311.9 685.2,328.0 C688.5,344.1 687.3,331.4 688.9,355.3 C690.6,379.2 690.2,369.6 690.2,399.6 Z"/>
<path class="p" style="stroke-width:3.0" d="M730.8,423.0 C730.8,453.0 731.2,443.0 729.5,468.8 C727.9,494.6 729.1,480.5 725.8,500.5 C722.5,520.5 724.6,510.7 719.6,528.8 C714.7,546.9 717.6,538.1 711.0,554.8 C704.5,571.5 708.2,563.4 700.0,579.0 C691.9,594.5 696.4,587.0 686.6,601.4 C676.8,615.8 682.2,608.8 670.6,622.1 C659.0,635.4 665.6,628.9 651.8,641.3 C638.1,653.8 648.3,646.2 629.3,659.6 C610.3,673.0 617.8,668.0 594.9,681.6 C572.0,695.2 579.5,691.3 560.5,700.4 C541.5,709.5 551.7,705.0 538.0,708.9 C524.2,712.7 530.8,711.5 519.2,711.9 C507.6,712.3 513.0,712.9 503.2,710.1 C493.4,707.3 497.9,709.5 489.8,703.6 C481.6,697.8 485.3,701.5 478.8,692.6 C472.2,683.6 475.1,689.0 470.2,676.7 C465.2,664.5 467.3,671.9 464.0,655.8 C460.7,639.7 461.9,652.4 460.3,628.5 C458.6,604.6 459.0,614.2 459.0,584.2 C459.0,554.2 458.6,564.2 460.3,538.4 C461.9,512.6 460.7,526.7 464.0,506.7 C467.3,486.7 465.2,496.5 470.2,478.4 C475.1,460.3 472.2,469.1 478.8,452.4 C485.3,435.7 481.6,443.8 489.8,428.2 C497.9,412.7 493.4,420.2 503.2,405.8 C513.0,391.4 507.6,398.4 519.2,385.1 C530.8,371.8 524.2,378.3 538.0,365.9 C551.7,353.4 541.5,361.0 560.5,347.6 C579.5,334.2 572.0,339.2 594.9,325.6 C617.8,312.0 610.3,315.9 629.3,306.8 C648.3,297.7 638.1,302.2 651.8,298.3 C665.6,294.5 659.0,295.7 670.6,295.3 C682.2,294.9 676.8,294.3 686.6,297.1 C696.4,299.9 691.9,297.7 700.0,303.6 C708.2,309.4 704.5,305.7 711.0,314.6 C717.6,323.6 714.7,318.2 719.6,330.5 C724.6,342.7 722.5,335.3 725.8,351.4 C729.1,367.5 727.9,354.8 729.5,378.7 C731.2,402.6 730.8,393.0 730.8,423.0 Z"/>
<path class="p" style="stroke-width:3.0" d="M771.4,446.4 C771.4,476.4 771.8,466.4 770.1,492.2 C768.5,518.0 769.7,503.9 766.4,523.9 C763.1,543.9 765.2,534.1 760.2,552.2 C755.3,570.3 758.2,561.5 751.6,578.2 C745.1,594.9 748.8,586.8 740.6,602.4 C732.5,617.9 737.0,610.4 727.2,624.8 C717.4,639.2 722.8,632.2 711.2,645.5 C699.6,658.8 706.2,652.3 692.4,664.7 C678.7,677.2 688.9,669.6 669.9,683.0 C650.9,696.4 658.4,691.4 635.5,705.0 C612.6,718.6 620.1,714.7 601.1,723.8 C582.1,732.9 592.3,728.4 578.6,732.3 C564.8,736.1 571.4,734.9 559.8,735.3 C548.2,735.7 553.6,736.3 543.8,733.5 C534.0,730.7 538.5,732.9 530.4,727.0 C522.2,721.2 525.9,724.9 519.4,716.0 C512.8,707.0 515.7,712.4 510.8,700.1 C505.8,687.9 507.9,695.3 504.6,679.2 C501.3,663.1 502.5,675.8 500.9,651.9 C499.2,628.0 499.6,637.6 499.6,607.6 C499.6,577.6 499.2,587.6 500.9,561.8 C502.5,536.0 501.3,550.1 504.6,530.1 C507.9,510.1 505.8,519.9 510.8,501.8 C515.7,483.7 512.8,492.5 519.4,475.8 C525.9,459.1 522.2,467.2 530.4,451.6 C538.5,436.1 534.0,443.6 543.8,429.2 C553.6,414.8 548.2,421.8 559.8,408.5 C571.4,395.2 564.8,401.7 578.6,389.3 C592.3,376.8 582.1,384.4 601.1,371.0 C620.1,357.6 612.6,362.6 635.5,349.0 C658.4,335.4 650.9,339.3 669.9,330.2 C688.9,321.1 678.7,325.6 692.4,321.7 C706.2,317.9 699.6,319.1 711.2,318.7 C722.8,318.3 717.4,317.7 727.2,320.5 C737.0,323.3 732.5,321.1 740.6,327.0 C748.8,332.8 745.1,329.1 751.6,338.0 C758.2,347.0 755.3,341.6 760.2,353.9 C765.2,366.1 763.1,358.7 766.4,374.8 C769.7,390.9 768.5,378.2 770.1,402.1 C771.8,426.0 771.4,416.4 771.4,446.4 Z"/>
<path class="p" style="stroke-width:3.0" d="M812.0,469.8 C812.0,499.8 812.4,489.8 810.7,515.6 C809.1,541.4 810.3,527.3 807.0,547.3 C803.7,567.3 805.8,557.5 800.8,575.6 C795.9,593.7 798.8,584.9 792.2,601.6 C785.7,618.3 789.4,610.2 781.2,625.8 C773.1,641.3 777.6,633.8 767.8,648.2 C758.0,662.6 763.4,655.6 751.8,668.9 C740.2,682.2 746.8,675.7 733.0,688.1 C719.3,700.6 729.5,693.0 710.5,706.4 C691.5,719.8 699.0,714.8 676.1,728.4 C653.2,742.0 660.7,738.1 641.7,747.2 C622.7,756.3 632.9,751.8 619.2,755.7 C605.4,759.5 612.0,758.3 600.4,758.7 C588.8,759.1 594.2,759.7 584.4,756.9 C574.6,754.1 579.1,756.3 571.0,750.4 C562.8,744.6 566.5,748.3 560.0,739.4 C553.4,730.4 556.3,735.8 551.4,723.5 C546.4,711.3 548.5,718.7 545.2,702.6 C541.9,686.5 543.1,699.2 541.5,675.3 C539.8,651.4 540.2,661.0 540.2,631.0 C540.2,601.0 539.8,611.0 541.5,585.2 C543.1,559.4 541.9,573.5 545.2,553.5 C548.5,533.5 546.4,543.3 551.4,525.2 C556.3,507.1 553.4,515.9 560.0,499.2 C566.5,482.5 562.8,490.6 571.0,475.0 C579.1,459.5 574.6,467.0 584.4,452.6 C594.2,438.2 588.8,445.2 600.4,431.9 C612.0,418.6 605.4,425.1 619.2,412.7 C632.9,400.2 622.7,407.8 641.7,394.4 C660.7,381.0 653.2,386.0 676.1,372.4 C699.0,358.8 691.5,362.7 710.5,353.6 C729.5,344.5 719.3,349.0 733.0,345.1 C746.8,341.3 740.2,342.5 751.8,342.1 C763.4,341.7 758.0,341.1 767.8,343.9 C777.6,346.7 773.1,344.5 781.2,350.4 C789.4,356.2 785.7,352.5 792.2,361.4 C798.8,370.4 795.9,365.0 800.8,377.3 C805.8,389.5 803.7,382.1 807.0,398.2 C810.3,414.3 809.1,401.6 810.7,425.5 C812.4,449.4 812.0,439.8 812.0,469.8 Z"/>
</g>
<path class="p" d="M270,135 L330,110 L385,150 L385,200 L272,240 Z"/><path class="n" d="M270,135 L272,240"/>
<path class="p" d="M225,245 L385,150 L790,385 L630,480 Z"/>
<path class="p" d="M225,245 L630,480 L632,502 L226,266 Z"/>
<path class="p" d="M630,480 L790,385 L790,405 L632,502 Z"/>
<ellipse class="n" cx="432" cy="270" rx="58" ry="35" transform="rotate(8 432 270)"/>
<ellipse class="n" cx="582" cy="360" rx="58" ry="35" transform="rotate(8 582 360)"/>
<ellipse class="n" cx="442" cy="200" rx="10" ry="6" transform="rotate(8 442 200)"/>
<ellipse class="n" cx="308" cy="278" rx="10" ry="6" transform="rotate(8 308 278)"/>
<ellipse class="n" cx="573" cy="275" rx="10" ry="6" transform="rotate(8 573 275)"/>
<ellipse class="n" cx="440" cy="355" rx="10" ry="6" transform="rotate(8 440 355)"/>
<ellipse class="n" cx="705" cy="352" rx="10" ry="6" transform="rotate(8 705 352)"/>
<ellipse class="n" cx="572" cy="432" rx="10" ry="6" transform="rotate(8 572 432)"/>
<path class="p" style="stroke-width:3.0" d="M852.6,493.2 C852.6,523.2 853.0,513.2 851.3,539.0 C849.7,564.8 850.9,550.7 847.6,570.7 C844.3,590.7 846.4,580.9 841.4,599.0 C836.5,617.1 839.4,608.3 832.8,625.0 C826.3,641.7 830.0,633.6 821.8,649.2 C813.7,664.7 818.2,657.2 808.4,671.6 C798.6,686.0 804.0,679.0 792.4,692.3 C780.8,705.6 787.4,699.1 773.6,711.5 C759.9,724.0 770.1,716.4 751.1,729.8 C732.1,743.2 739.6,738.2 716.7,751.8 C693.8,765.4 701.3,761.5 682.3,770.6 C663.3,779.7 673.5,775.2 659.8,779.1 C646.0,782.9 652.6,781.7 641.0,782.1 C629.4,782.5 634.8,783.1 625.0,780.3 C615.2,777.5 619.7,779.7 611.6,773.8 C603.4,768.0 607.1,771.7 600.6,762.8 C594.0,753.8 596.9,759.2 592.0,746.9 C587.0,734.7 589.1,742.1 585.8,726.0 C582.5,709.9 583.7,722.6 582.1,698.7 C580.4,674.8 580.8,684.4 580.8,654.4 C580.8,624.4 580.4,634.4 582.1,608.6 C583.7,582.8 582.5,596.9 585.8,576.9 C589.1,556.9 587.0,566.7 592.0,548.6 C596.9,530.5 594.0,539.3 600.6,522.6 C607.1,505.9 603.4,514.0 611.6,498.4 C619.7,482.9 615.2,490.4 625.0,476.0 C634.8,461.6 629.4,468.6 641.0,455.3 C652.6,442.0 646.0,448.5 659.8,436.1 C673.5,423.6 663.3,431.2 682.3,417.8 C701.3,404.4 693.8,409.4 716.7,395.8 C739.6,382.2 732.1,386.1 751.1,377.0 C770.1,367.9 759.9,372.4 773.6,368.5 C787.4,364.7 780.8,365.9 792.4,365.5 C804.0,365.1 798.6,364.5 808.4,367.3 C818.2,370.1 813.7,367.9 821.8,373.8 C830.0,379.6 826.3,375.9 832.8,384.8 C839.4,393.8 836.5,388.4 841.4,400.7 C846.4,412.9 844.3,405.5 847.6,421.6 C850.9,437.7 849.7,425.0 851.3,448.9 C853.0,472.8 852.6,463.2 852.6,493.2 Z"/>
<path class="p" style="stroke-width:3.0" d="M893.2,516.6 C893.2,546.6 893.6,536.6 891.9,562.4 C890.3,588.2 891.5,574.1 888.2,594.1 C884.9,614.1 887.0,604.3 882.0,622.4 C877.1,640.5 880.0,631.7 873.4,648.4 C866.9,665.1 870.6,657.0 862.4,672.6 C854.3,688.1 858.8,680.6 849.0,695.0 C839.2,709.4 844.6,702.4 833.0,715.7 C821.4,729.0 828.0,722.5 814.2,734.9 C800.5,747.4 810.7,739.8 791.7,753.2 C772.7,766.6 780.2,761.6 757.3,775.2 C734.4,788.8 741.9,784.9 722.9,794.0 C703.9,803.1 714.1,798.6 700.4,802.5 C686.6,806.3 693.2,805.1 681.6,805.5 C670.0,805.9 675.4,806.5 665.6,803.7 C655.8,800.9 660.3,803.1 652.2,797.2 C644.0,791.4 647.7,795.1 641.2,786.2 C634.6,777.2 637.5,782.6 632.6,770.3 C627.6,758.1 629.7,765.5 626.4,749.4 C623.1,733.3 624.3,746.0 622.7,722.1 C621.0,698.2 621.4,707.8 621.4,677.8 C621.4,647.8 621.0,657.8 622.7,632.0 C624.3,606.2 623.1,620.3 626.4,600.3 C629.7,580.3 627.6,590.1 632.6,572.0 C637.5,553.9 634.6,562.7 641.2,546.0 C647.7,529.3 644.0,537.4 652.2,521.8 C660.3,506.3 655.8,513.8 665.6,499.4 C675.4,485.0 670.0,492.0 681.6,478.7 C693.2,465.4 686.6,471.9 700.4,459.5 C714.1,447.0 703.9,454.6 722.9,441.2 C741.9,427.8 734.4,432.8 757.3,419.2 C780.2,405.6 772.7,409.5 791.7,400.4 C810.7,391.3 800.5,395.8 814.2,391.9 C828.0,388.1 821.4,389.3 833.0,388.9 C844.6,388.5 839.2,387.9 849.0,390.7 C858.8,393.5 854.3,391.3 862.4,397.2 C870.6,403.0 866.9,399.3 873.4,408.2 C880.0,417.2 877.1,411.8 882.0,424.1 C887.0,436.3 884.9,428.9 888.2,445.0 C891.5,461.1 890.3,448.4 891.9,472.3 C893.6,496.2 893.2,486.6 893.2,516.6 Z"/>
<path class="p" style="stroke-width:3.0" d="M933.8,540.0 C933.8,570.0 934.2,560.0 932.5,585.8 C930.9,611.6 932.1,597.5 928.8,617.5 C925.5,637.5 927.6,627.7 922.6,645.8 C917.7,663.9 920.6,655.1 914.0,671.8 C907.5,688.5 911.2,680.4 903.0,696.0 C894.9,711.5 899.4,704.0 889.6,718.4 C879.8,732.8 885.2,725.8 873.6,739.1 C862.0,752.4 868.6,745.9 854.8,758.3 C841.1,770.8 851.3,763.2 832.3,776.6 C813.3,790.0 820.8,785.0 797.9,798.6 C775.0,812.2 782.5,808.3 763.5,817.4 C744.5,826.5 754.7,822.0 741.0,825.9 C727.2,829.7 733.8,828.5 722.2,828.9 C710.6,829.3 716.0,829.9 706.2,827.1 C696.4,824.3 700.9,826.5 692.8,820.6 C684.6,814.8 688.3,818.5 681.8,809.6 C675.2,800.6 678.1,806.0 673.2,793.7 C668.2,781.5 670.3,788.9 667.0,772.8 C663.7,756.7 664.9,769.4 663.3,745.5 C661.6,721.6 662.0,731.2 662.0,701.2 C662.0,671.2 661.6,681.2 663.3,655.4 C664.9,629.6 663.7,643.7 667.0,623.7 C670.3,603.7 668.2,613.5 673.2,595.4 C678.1,577.3 675.2,586.1 681.8,569.4 C688.3,552.7 684.6,560.8 692.8,545.2 C700.9,529.7 696.4,537.2 706.2,522.8 C716.0,508.4 710.6,515.4 722.2,502.1 C733.8,488.8 727.2,495.3 741.0,482.9 C754.7,470.4 744.5,478.0 763.5,464.6 C782.5,451.2 775.0,456.2 797.9,442.6 C820.8,429.0 813.3,432.9 832.3,423.8 C851.3,414.7 841.1,419.2 854.8,415.3 C868.6,411.5 862.0,412.7 873.6,412.3 C885.2,411.9 879.8,411.3 889.6,414.1 C899.4,416.9 894.9,414.7 903.0,420.6 C911.2,426.4 907.5,422.7 914.0,431.6 C920.6,440.6 917.7,435.2 922.6,447.5 C927.6,459.7 925.5,452.3 928.8,468.4 C932.1,484.5 930.9,471.8 932.5,495.7 C934.2,519.6 933.8,510.0 933.8,540.0 Z"/>
<path class="p" style="stroke-width:2.2" d="M974.4,563.4 C974.4,593.4 974.8,583.4 973.1,609.2 C971.5,635.0 972.7,620.9 969.4,640.9 C966.1,660.9 968.2,651.1 963.2,669.2 C958.3,687.3 961.2,678.5 954.6,695.2 C948.1,711.9 951.8,703.8 943.6,719.4 C935.5,734.9 940.0,727.4 930.2,741.8 C920.4,756.2 925.8,749.2 914.2,762.5 C902.6,775.8 909.2,769.3 895.4,781.7 C881.7,794.2 891.9,786.6 872.9,800.0 C853.9,813.4 861.4,808.4 838.5,822.0 C815.6,835.6 823.1,831.7 804.1,840.8 C785.1,849.9 795.3,845.4 781.6,849.3 C767.8,853.1 774.4,851.9 762.8,852.3 C751.2,852.7 756.6,853.3 746.8,850.5 C737.0,847.7 741.5,849.9 733.4,844.0 C725.2,838.2 728.9,841.9 722.4,833.0 C715.8,824.0 718.7,829.4 713.8,817.1 C708.8,804.9 710.9,812.3 707.6,796.2 C704.3,780.1 705.5,792.8 703.9,768.9 C702.2,745.0 702.6,754.6 702.6,724.6 C702.6,694.6 702.2,704.6 703.9,678.8 C705.5,653.0 704.3,667.1 707.6,647.1 C710.9,627.1 708.8,636.9 713.8,618.8 C718.7,600.7 715.8,609.5 722.4,592.8 C728.9,576.1 725.2,584.2 733.4,568.6 C741.5,553.1 737.0,560.6 746.8,546.2 C756.6,531.8 751.2,538.8 762.8,525.5 C774.4,512.2 767.8,518.7 781.6,506.3 C795.3,493.8 785.1,501.4 804.1,488.0 C823.1,474.6 815.6,479.6 838.5,466.0 C861.4,452.4 853.9,456.3 872.9,447.2 C891.9,438.1 881.7,442.6 895.4,438.7 C909.2,434.9 902.6,436.1 914.2,435.7 C925.8,435.3 920.4,434.7 930.2,437.5 C940.0,440.3 935.5,438.1 943.6,444.0 C951.8,449.8 948.1,446.1 954.6,455.0 C961.2,464.0 958.3,458.6 963.2,470.9 C968.2,483.1 966.1,475.7 969.4,491.8 C972.7,507.9 971.5,495.2 973.1,519.1 C974.8,543.0 974.4,533.4 974.4,563.4 Z"/>
<path class="n" d="M848,436 L848,545 M850,700 L852,838"/>
<ellipse class="p" style="stroke-width:2.2" cx="855" cy="622" rx="66" ry="90" transform="rotate(20 855 622)"/>
<ellipse class="n" cx="862" cy="622" rx="58" ry="82" transform="rotate(20 862 622)"/>
<ellipse class="p" style="stroke-width:2.2" cx="868" cy="622" rx="48" ry="70" transform="rotate(20 868 622)"/>
</g>
<g id="screws">
<path class="p" style="stroke-width:1.8" d="M198.70000000000002,620.5 a2.6,1.5 0 0 1 5.2,0 L203.9,629.5 L198.70000000000002,629.5 Z"/>
<path class="p" style="stroke-width:1.8" d="M197.10000000000002,629.5 a4.2,2 0 0 1 8.4,0 L205.5,637.5 a4.2,2.2 0 0 1 -8.4,0 Z"/>
<path class="t" d="M197.10000000000002,630.5 a4.2,2 0 0 0 8.4,0 M198.70000000000002,623.5 L203.9,623.5 M198.70000000000002,626.5 L203.9,626.5"/>
<path class="p" style="stroke-width:1.8" d="M166.4,640 a2.6,1.5 0 0 1 5.2,0 L171.6,649 L166.4,649 Z"/>
<path class="p" style="stroke-width:1.8" d="M164.8,649 a4.2,2 0 0 1 8.4,0 L173.2,657 a4.2,2.2 0 0 1 -8.4,0 Z"/>
<path class="t" d="M164.8,650 a4.2,2 0 0 0 8.4,0 M166.4,643 L171.6,643 M166.4,646 L171.6,646"/>
<path class="p" style="stroke-width:1.8" d="M230.6,639 a2.6,1.5 0 0 1 5.2,0 L235.79999999999998,648 L230.6,648 Z"/>
<path class="p" style="stroke-width:1.8" d="M229.0,648 a4.2,2 0 0 1 8.4,0 L237.39999999999998,656 a4.2,2.2 0 0 1 -8.4,0 Z"/>
<path class="t" d="M229.0,649 a4.2,2 0 0 0 8.4,0 M230.6,642 L235.79999999999998,642 M230.6,645 L235.79999999999998,645"/>
<path class="p" style="stroke-width:1.8" d="M197.9,658 a2.6,1.5 0 0 1 5.2,0 L203.1,667 L197.9,667 Z"/>
<path class="p" style="stroke-width:1.8" d="M196.3,667 a4.2,2 0 0 1 8.4,0 L204.7,675 a4.2,2.2 0 0 1 -8.4,0 Z"/>
<path class="t" d="M196.3,668 a4.2,2 0 0 0 8.4,0 M197.9,661 L203.1,661 M197.9,664 L203.1,664"/>
<path class="p" style="stroke-width:1.8" d="M262.09999999999997,658 a2.6,1.5 0 0 1 5.2,0 L267.3,667 L262.09999999999997,667 Z"/>
<path class="p" style="stroke-width:1.8" d="M260.5,667 a4.2,2 0 0 1 8.4,0 L268.9,675 a4.2,2.2 0 0 1 -8.4,0 Z"/>
<path class="t" d="M260.5,668 a4.2,2 0 0 0 8.4,0 M262.09999999999997,661 L267.3,661 M262.09999999999997,664 L267.3,664"/>
<path class="p" style="stroke-width:1.8" d="M229.8,676.5 a2.6,1.5 0 0 1 5.2,0 L235.0,685.5 L229.8,685.5 Z"/>
<path class="p" style="stroke-width:1.8" d="M228.20000000000002,685.5 a4.2,2 0 0 1 8.4,0 L236.6,693.5 a4.2,2.2 0 0 1 -8.4,0 Z"/>
<path class="t" d="M228.20000000000002,686.5 a4.2,2 0 0 0 8.4,0 M229.8,679.5 L235.0,679.5 M229.8,682.5 L235.0,682.5"/>
</g><g id="lscrew" transform="translate(130,290) scale(0.19716)">
<!-- long screw below box -->
<path class="p" d="M175,838 L425,690 A10,14 -30 0 1 440,712 L190,862 Z"/>
<ellipse class="p" cx="433" cy="701" rx="9" ry="14" transform="rotate(-30 433 701)"/>
<ellipse class="p" cx="335" cy="762" rx="14" ry="30" transform="rotate(-25 335 762)" style="stroke-width:2.4"/>
<ellipse class="p" cx="318" cy="772" rx="14" ry="30" transform="rotate(-25 318 772)"/>
<path class="p" d="M170,835 L215,812 L228,845 L185,870 Z"/>
<ellipse class="p" cx="178" cy="852" rx="14" ry="22" transform="rotate(-25 178 852)"/>
</g>
<g id="cap" transform="translate(730,370) scale(0.2849)">
<path class="p" d="M38.0,440.0 C45.3,431.7 44.3,433.3 60.0,415.0 C75.7,396.7 68.3,410.0 85.0,385.0 C101.7,360.0 95.0,371.7 110.0,340.0 C125.0,308.3 118.3,323.3 130.0,290.0 C141.7,256.7 135.0,268.3 145.0,240.0 C155.0,211.7 146.7,223.3 160.0,205.0 C173.3,186.7 166.7,195.0 185.0,185.0 C203.3,175.0 195.0,183.3 215.0,175.0 C235.0,166.7 220.0,175.0 245.0,160.0 C270.0,145.0 261.7,151.7 290.0,130.0 C318.3,108.3 308.3,121.7 330.0,95.0 C351.7,68.3 340.0,73.3 355.0,50.0 C370.0,26.7 361.7,35.7 375.0,25.0 C388.3,14.3 380.0,16.3 395.0,18.0 C410.0,19.7 401.7,19.3 420.0,30.0 C438.3,40.7 426.7,41.7 450.0,50.0 C473.3,58.3 466.7,56.7 490.0,55.0 C513.3,53.3 501.7,51.7 520.0,45.0 C538.3,38.3 526.7,36.7 545.0,35.0 C563.3,33.3 556.7,31.7 575.0,40.0 C593.3,48.3 583.3,45.0 600.0,60.0 C616.7,75.0 615.7,65.0 625.0,85.0 C634.3,105.0 623.0,95.0 628.0,120.0 C633.0,145.0 632.0,133.3 640.0,160.0 C648.0,186.7 643.7,175.0 652.0,200.0 C660.3,225.0 652.3,214.3 665.0,235.0 C677.7,255.7 678.3,245.3 690.0,262.0 C701.7,278.7 703.3,270.7 700.0,285.0 C696.7,299.3 695.0,296.0 680.0,305.0 C665.0,314.0 666.7,300.3 655.0,312.0 C643.3,323.7 653.3,314.0 645.0,340.0 C636.7,366.0 638.3,356.7 630.0,390.0 C621.7,423.3 625.0,410.0 620.0,440.0 C615.0,470.0 615.0,456.7 615.0,480.0 C615.0,503.3 614.3,491.7 620.0,510.0 C625.7,528.3 633.7,520.0 632.0,535.0 C630.3,550.0 635.7,541.7 615.0,555.0 C594.3,568.3 598.3,556.7 570.0,575.0 C541.7,593.3 556.7,585.0 530.0,610.0 C503.3,635.0 510.0,623.3 490.0,650.0 C470.0,676.7 479.3,665.0 470.0,690.0 C460.7,715.0 464.7,701.7 462.0,725.0 C459.3,748.3 472.7,744.3 462.0,760.0 C451.3,775.7 457.3,767.0 430.0,772.0 C402.7,777.0 410.0,770.7 380.0,775.0 C350.0,779.3 366.7,776.7 340.0,785.0 C313.3,793.3 323.3,788.3 300.0,800.0 C276.7,811.7 286.7,806.7 270.0,820.0 C253.3,833.3 268.3,830.7 250.0,840.0 C231.7,849.3 236.7,849.7 215.0,848.0 C193.3,846.3 203.3,847.7 185.0,835.0 C166.7,822.3 171.7,825.0 160.0,810.0 C148.3,795.0 155.0,801.7 150.0,790.0 C145.0,778.3 146.7,780.0 145.0,775.0 L118,765 L38,715 Z"/>
<path class="p" d="M38,440 L118,485 L118,765 L38,715 Z"/>
<path class="n" d="M38,440 L62,412 M118,485 L140,455"/>
<ellipse class="p" style="stroke-width:2.2" cx="69" cy="511" rx="6.5" ry="7.5" transform="rotate(0 69 511)"/><ellipse class="p" style="stroke-width:2.2" cx="74" cy="529" rx="7" ry="8" transform="rotate(0 74 529)"/>
<ellipse class="n" cx="72" cy="600" rx="6" ry="9" transform="rotate(-15 72 600)"/><ellipse class="n" cx="73" cy="670" rx="26" ry="33" transform="rotate(-15 73 670)"/><ellipse class="n" cx="76" cy="672" rx="20" ry="27" transform="rotate(-15 76 672)"/>
<path class="n" d="M118.0,440.0 C125.3,426.7 126.0,428.3 140.0,400.0 C154.0,371.7 146.7,388.3 160.0,355.0 C173.3,321.7 168.3,333.3 180.0,300.0 C191.7,266.7 185.0,279.0 195.0,255.0 C205.0,231.0 197.7,242.3 210.0,228.0 C222.3,213.7 214.7,220.3 232.0,212.0 C249.3,203.7 242.7,212.0 262.0,203.0 C281.3,194.0 267.3,201.0 290.0,185.0 C312.7,169.0 303.3,176.7 330.0,155.0 C356.7,133.3 348.3,140.0 370.0,120.0 C391.7,100.0 381.0,111.0 395.0,95.0 C409.0,79.0 401.0,83.7 412.0,72.0 C423.0,60.3 422.7,64.0 428.0,60.0"/>
<path class="t" d="M128.0,440.0 C135.3,426.7 136.0,428.3 150.0,400.0 C164.0,371.7 156.7,388.3 170.0,355.0 C183.3,321.7 178.3,331.0 190.0,300.0 C201.7,269.0 195.0,282.0 205.0,262.0 C215.0,242.0 215.0,247.3 220.0,240.0"/>
<path class="n" d="M150,235 L192,258 M133,295 L174,318 M100,365 L142,392 M70,410 L120,440 M215,175 L240,205 M268,148 L300,180 M312,112 L347,140 M355,55 L388,82"/>
<path class="n" d="M455.0,72.0 C463.3,74.7 458.3,79.7 480.0,80.0 C501.7,80.3 496.7,79.0 520.0,73.0 C543.3,67.0 530.0,64.3 550.0,62.0 C570.0,59.7 564.0,60.7 580.0,66.0 C596.0,71.3 592.0,74.0 598.0,78.0"/>
<path class="t" d="M462.0,60.0 C471.3,62.0 470.0,66.7 490.0,66.0 C510.0,65.3 502.7,64.0 522.0,58.0 C541.3,52.0 530.3,50.0 548.0,48.0 C565.7,46.0 559.3,46.0 575.0,52.0 C590.7,58.0 588.3,61.3 595.0,66.0"/>
<path class="n" d="M520,45 L500,70 M560,36 L548,60"/>
<path class="n" d="M628.0,120.0 C632.0,133.3 632.0,133.3 640.0,160.0 C648.0,186.7 643.7,175.0 652.0,200.0 C660.3,225.0 660.7,223.3 665.0,235.0"/>
<path class="n" style="stroke-width:2" d="M628,120 L662,230"/>
<path class="t" d="M645.0,312.0 C640.7,328.0 641.0,324.0 632.0,360.0 C623.0,396.0 625.3,383.3 618.0,420.0 C610.7,456.7 614.0,440.0 610.0,470.0 C606.0,500.0 607.3,496.7 606.0,510.0"/>
<path class="n" d="M120.0,440.0 C130.0,430.7 128.3,432.0 150.0,412.0 C171.7,392.0 163.3,404.7 185.0,380.0 C206.7,355.3 197.3,362.0 215.0,338.0 C232.7,314.0 222.3,324.0 238.0,308.0 C253.7,292.0 254.0,296.0 262.0,290.0"/>
<path class="t" d="M125.0,425.0 C136.7,414.0 136.7,417.0 160.0,392.0 C183.3,367.0 174.3,376.7 195.0,350.0 C215.7,323.3 207.0,330.3 222.0,312.0 C237.0,293.7 234.0,300.7 240.0,295.0"/>
<path class="n" d="M262.0,290.0 C274.7,281.7 270.7,283.3 300.0,265.0 C329.3,246.7 316.7,255.0 350.0,235.0 C383.3,215.0 366.7,225.0 400.0,205.0 C433.3,185.0 420.0,193.3 450.0,175.0 C480.0,156.7 466.7,162.3 490.0,150.0 C513.3,137.7 500.7,141.3 520.0,138.0 C539.3,134.7 532.0,134.3 548.0,140.0 C564.0,145.7 557.3,141.0 568.0,155.0 C578.7,169.0 574.3,158.7 580.0,182.0 C585.7,205.3 584.0,194.0 585.0,225.0 C586.0,256.0 584.7,241.7 583.0,275.0 C581.3,308.3 580.3,291.7 580.0,325.0 C579.7,358.3 578.7,341.7 582.0,375.0 C585.3,408.3 584.7,393.3 590.0,425.0 C595.3,456.7 594.7,443.3 598.0,470.0 C601.3,496.7 602.7,483.3 600.0,505.0 C597.3,526.7 603.3,512.7 590.0,535.0 C576.7,557.3 583.3,550.3 560.0,572.0 C536.7,593.7 546.7,580.7 520.0,600.0 C493.3,619.3 502.7,608.3 480.0,630.0 C457.3,651.7 468.0,641.7 452.0,665.0 C436.0,688.3 449.3,679.0 432.0,700.0 C414.7,721.0 427.3,714.0 400.0,728.0 C372.7,742.0 383.3,735.3 350.0,742.0 C316.7,748.7 331.7,743.0 300.0,748.0 C268.3,753.0 283.3,755.7 255.0,757.0 C226.7,758.3 238.3,757.0 215.0,752.0 C191.7,747.0 195.0,745.3 185.0,742.0"/>
<path class="n" d="M222.0,352.0 C233.0,338.7 229.0,334.3 255.0,312.0 C281.0,289.7 268.3,304.0 300.0,285.0 C331.7,266.0 316.7,275.0 350.0,255.0 C383.3,235.0 366.7,245.0 400.0,225.0 C433.3,205.0 420.0,212.7 450.0,195.0 C480.0,177.3 466.7,183.7 490.0,172.0 C513.3,160.3 503.3,163.0 520.0,160.0 C536.7,157.0 528.3,157.0 540.0,163.0 C551.7,169.0 550.0,173.0 555.0,178.0"/>
<path class="t" d="M228.0,350.0 C238.7,340.7 236.0,339.3 260.0,322.0 C284.0,304.7 270.0,316.0 300.0,298.0 C330.0,280.0 316.7,288.0 350.0,268.0 C383.3,248.0 366.7,258.0 400.0,238.0 C433.3,218.0 420.0,225.7 450.0,208.0 C480.0,190.3 468.3,196.0 490.0,185.0 C511.7,174.0 506.7,178.3 515.0,175.0"/>
<path class="n" d="M350,235 L352,256 M520,138 L522,160"/>
<path class="n" d="M150.0,770.0 C163.3,766.7 163.3,758.3 190.0,760.0 C216.7,761.7 203.3,771.7 230.0,775.0 C256.7,778.3 240.0,778.3 270.0,770.0 C300.0,761.7 283.3,760.0 320.0,750.0 C356.7,740.0 346.7,740.7 380.0,740.0 C413.3,739.3 406.7,745.3 420.0,748.0"/>
<path class="t" d="M158.0,785.0 C167.0,786.7 167.7,783.3 185.0,790.0 C202.3,796.7 196.7,791.7 210.0,805.0 C223.3,818.3 220.0,821.7 225.0,830.0"/>
<path class="n" d="M165.0,805.0 C176.7,803.3 183.3,795.0 200.0,800.0 C216.7,805.0 211.0,806.0 215.0,820.0 C219.0,834.0 213.0,834.7 212.0,842.0"/>
<g transform="translate(210.6,210.6) scale(0.538)">
<path class="p" d="M322.0,150.0 C298.0,168.3 300.7,155.0 250.0,205.0 C199.3,255.0 218.3,228.3 170.0,300.0 C121.7,371.7 137.7,335.0 105.0,420.0 C72.3,505.0 83.0,510.0 72.0,555.0 C75,585 110,585 118,560  C127.0,520.0 117.7,516.7 145.0,440.0 C172.3,363.3 158.3,395.0 200.0,330.0 C241.7,265.0 225.0,291.7 270.0,245.0 C315.0,198.3 313.3,208.3 335.0,190.0 C350,170 340,140 322,150 Z"/>
<path class="t" d="M280,185 L310,205 M80,525 L120,540"/>
<path class="p" d="M655.0,340.0 C658.3,373.3 673.3,366.7 665.0,440.0 C656.7,513.3 671.7,480.0 630.0,560.0 C588.3,640.0 608.3,610.0 540.0,680.0 C471.7,750.0 463.3,740.0 425.0,770.0 C400,790 380,760 405,740  C440.0,710.0 448.3,716.7 510.0,650.0 C571.7,583.3 553.3,610.0 590.0,540.0 C626.7,470.0 611.7,503.3 620.0,440.0 C628.3,376.7 616.7,380.0 615.0,350.0 C618,325 650,320 655,340 Z"/>
<ellipse class="n" cx="362" cy="450" rx="196" ry="272" transform="rotate(27 362 450)"/>
<ellipse class="t" cx="362" cy="450" rx="180" ry="252" transform="rotate(27 362 450)"/>
<path class="p" d="M405.0,112.0 C426.7,100.0 418.3,84.7 470.0,76.0 C521.7,67.3 506.7,64.7 560.0,86.0 C613.3,107.3 596.0,98.0 630.0,140.0 C664.0,182.0 654.7,168.0 662.0,212.0 C669.3,256.0 655.3,252.0 652.0,272.0 L612,272  C604.7,251.3 614.0,246.7 590.0,210.0 C566.0,173.3 580.0,186.3 540.0,162.0 C500.0,137.7 513.3,140.3 470.0,137.0 C426.7,133.7 430.0,147.0 410.0,152.0 C395,140 395,120 405,112 Z"/>
<path class="n" d="M440,92 C470,110 495,125 515,150 M500,78 C530,100 560,130 580,195 M560,88 C590,120 615,165 625,235 M420,130 C470,118 520,125 560,150 M600,120 C610,160 620,200 640,250"/>
<path class="p" d="M75.0,690.0 C83.3,716.7 68.3,723.3 100.0,770.0 C131.7,816.7 116.7,802.7 170.0,830.0 C223.3,857.3 208.3,855.3 260.0,852.0 C311.7,848.7 303.3,830.7 325.0,820.0 L332,770  C318.0,772.0 330.7,779.3 290.0,776.0 C249.3,772.7 256.7,782.0 210.0,760.0 C163.3,738.0 176.7,746.7 150.0,710.0 C123.3,673.3 136.7,670.0 130.0,650.0 C115,640 85,655 75,690 Z"/>
<path class="n" d="M90,730 C130,735 175,755 215,795 M110,780 C150,775 200,790 250,830 M160,820 C200,805 250,800 300,810 M125,690 C150,700 175,720 195,745 M240,770 C255,790 260,820 262,850"/>
<ellipse class="p" cx="355" cy="447" rx="150" ry="212" transform="rotate(27 355 447)"/>
<ellipse class="p" cx="355" cy="447" rx="118" ry="168" transform="rotate(27 355 447)"/>
<ellipse class="n" cx="346" cy="436" rx="92" ry="132" transform="rotate(27 346 436)"/>
<ellipse class="p" style="stroke-width:2" cx="340" cy="428" rx="68" ry="100" transform="rotate(27 340 428)"/>
<ellipse class="n" cx="333" cy="420" rx="44" ry="68" transform="rotate(27 333 420)"/>
<path class="t" d="M280,410 L330,440 M300,520 C330,515 370,480 395,430"/>
<path class="n" d="M385,225 L430,262 M410,205 L455,245 M490,430 L545,455 M480,470 L535,498 M405,575 L445,612 M425,555 L470,590 M195,440 L245,462 M185,480 L235,505 M270,315 L300,290 L420,225 M180,560 L215,620 L290,650"/>
<ellipse class="p" cx="100" cy="305" rx="24" ry="38" transform="rotate(25 100 305)"/>
<ellipse class="p" cx="237" cy="385" rx="19" ry="30" transform="rotate(25 237 385)"/>
<ellipse class="p" cx="497" cy="232" rx="20" ry="33" transform="rotate(25 497 232)"/>
<ellipse class="p" cx="497" cy="535" rx="21" ry="33" transform="rotate(25 497 535)"/>
<ellipse class="p" cx="235" cy="690" rx="19" ry="30" transform="rotate(25 235 690)"/>
<ellipse class="p" cx="340" cy="680" rx="24" ry="14" transform="rotate(0 340 680)"/>
<ellipse class="p" cx="635" cy="610" rx="25" ry="38" transform="rotate(25 635 610)"/>
<ellipse class="p" cx="730" cy="45" rx="14" ry="22" transform="rotate(25 730 45)"/>
<ellipse class="p" cx="730" cy="295" rx="14" ry="22" transform="rotate(25 730 295)"/>
<ellipse class="p" cx="405" cy="860" rx="16" ry="25" transform="rotate(25 405 860)"/>
<ellipse class="n" cx="340" cy="55" rx="30" ry="22" transform="rotate(10 340 55)"/><ellipse class="k" cx="340" cy="55" rx="14" ry="10" transform="rotate(10 340 55)"/>
<path class="t" d="M560,575 L600,595 M770,70 L745,55"/>
</g>
<ellipse class="n" cx="265" cy="705" rx="11" ry="17" transform="rotate(25 265 705)"/>
<ellipse class="n" cx="315" cy="740" rx="8" ry="12" transform="rotate(25 315 740)"/>
<ellipse class="n" cx="430" cy="670" rx="8" ry="12" transform="rotate(25 430 670)"/>
<ellipse class="n" cx="225" cy="810" rx="6" ry="9" transform="rotate(25 225 810)"/>
<ellipse class="n" cx="550" cy="215" rx="11" ry="16" transform="rotate(25 550 215)"/>
<circle class="k" cx="208" cy="597" r="2"/>
<ellipse class="n" cx="196" cy="508" rx="24" ry="36" transform="rotate(25 196 508)"/><ellipse class="t" cx="200" cy="510" rx="17" ry="28" transform="rotate(25 200 510)"/>
<ellipse class="p" style="stroke-width:2" cx="422" cy="76" rx="20" ry="26" transform="rotate(-20 422 76)"/><ellipse class="n" cx="428" cy="78" rx="15" ry="21" transform="rotate(-20 428 78)"/><ellipse class="p" cx="449" cy="87" rx="18" ry="21" transform="rotate(-20 449 87)"/>
<ellipse class="p" style="stroke-width:2" cx="595" cy="92" rx="20" ry="26" transform="rotate(-20 595 92)"/><ellipse class="n" cx="601" cy="94" rx="15" ry="21" transform="rotate(-20 601 94)"/><ellipse class="p" cx="622" cy="103" rx="18" ry="21" transform="rotate(-20 622 103)"/>
<ellipse class="p" style="stroke-width:2" cx="660" cy="265" rx="20" ry="26" transform="rotate(-20 660 265)"/><ellipse class="n" cx="666" cy="267" rx="15" ry="21" transform="rotate(-20 666 267)"/><ellipse class="p" cx="687" cy="276" rx="18" ry="21" transform="rotate(-20 687 276)"/>
<ellipse class="p" style="stroke-width:2" cx="598" cy="527" rx="20" ry="26" transform="rotate(-20 598 527)"/><ellipse class="n" cx="604" cy="529" rx="15" ry="21" transform="rotate(-20 604 529)"/><ellipse class="p" cx="625" cy="538" rx="18" ry="21" transform="rotate(-20 625 538)"/>
<ellipse class="p" style="stroke-width:2" cx="430" cy="740" rx="20" ry="26" transform="rotate(-20 430 740)"/><ellipse class="n" cx="436" cy="742" rx="15" ry="21" transform="rotate(-20 436 742)"/><ellipse class="p" cx="457" cy="751" rx="18" ry="21" transform="rotate(-20 457 751)"/>
<ellipse class="p" style="stroke-width:2" cx="138" cy="735" rx="20" ry="26" transform="rotate(-20 138 735)"/><ellipse class="n" cx="144" cy="737" rx="15" ry="21" transform="rotate(-20 144 737)"/><ellipse class="p" cx="165" cy="746" rx="18" ry="21" transform="rotate(-20 165 746)"/>
<ellipse class="p" style="stroke-width:2" cx="142" cy="505" rx="20" ry="26" transform="rotate(-20 142 505)"/><ellipse class="n" cx="148" cy="507" rx="15" ry="21" transform="rotate(-20 148 507)"/><ellipse class="p" cx="169" cy="516" rx="18" ry="21" transform="rotate(-20 169 516)"/>
<ellipse class="p" style="stroke-width:2" cx="228" cy="232" rx="20" ry="26" transform="rotate(-20 228 232)"/><ellipse class="n" cx="234" cy="234" rx="15" ry="21" transform="rotate(-20 234 234)"/><ellipse class="p" cx="255" cy="243" rx="18" ry="21" transform="rotate(-20 255 243)"/>
</g><g id="br19" transform="translate(1040,350) scale(0.25189)">
<path class="p" d="M175,95 C185,75 200,65 225,68 L290,102 C298,108 300,115 300,125 L300,632 C300,645 292,650 282,646 L205,615 L190,625 L165,610 L165,578 C160,565 155,558 145,553 L85,525 C72,518 70,512 70,500 L70,325 C70,305 75,295 85,285 C110,250 140,200 160,150 C168,125 170,110 175,95 Z"/>
<path class="n" d="M205,82 L205,615 M217,76 L217,608 M232,80 L232,600 M175,95 C180,100 190,95 205,82 M225,68 L215,76" />
<path class="n" style="stroke-width:2" d="M175,95 C170,130 150,180 115,235 C95,265 78,290 72,315"/>
<ellipse class="n"  cx="262" cy="135" rx="9" ry="14" transform="rotate(-20 262 135)"/><ellipse class="n"  cx="260" cy="582" rx="9" ry="14" transform="rotate(-20 260 582)"/>
<ellipse class="n"  cx="167" cy="300" rx="17" ry="27" transform="rotate(25 167 300)"/><ellipse class="n" style="stroke-width:2.2" cx="172" cy="362" rx="17" ry="25" transform="rotate(25 172 362)"/><ellipse class="n"  cx="162" cy="432" rx="17" ry="27" transform="rotate(25 162 432)"/>
<ellipse class="n"  cx="103" cy="328" rx="9" ry="14" transform="rotate(20 103 328)"/><ellipse class="n"  cx="103" cy="478" rx="9" ry="14" transform="rotate(20 103 478)"/><ellipse class="n"  cx="170" cy="512" rx="3.5" ry="5" transform="rotate(0 170 512)"/>
</g>
<g id="wb" transform="translate(1040,350) scale(0.25189)">
<ellipse class="p" style="stroke-width:2.4" cx="483" cy="545" rx="23" ry="33" transform="rotate(25 483 545)"/><ellipse class="n"  cx="485" cy="546" rx="10" ry="15" transform="rotate(25 485 546)"/>
<path class="p" d="M660,632 L705,655 L690,692 L648,668 Z"/><ellipse class="p"  cx="654" cy="650" rx="10" ry="19" transform="rotate(25 654 650)"/>
<path class="p" d="M700,645 L728,650 C745,660 745,690 730,705 L705,712 C690,700 685,665 700,645 Z"/>
<ellipse class="n"  cx="722" cy="680" rx="18" ry="28" transform="rotate(20 722 680)"/><path class="t" d="M700,645 L712,655 M705,712 L715,705"/>
<ellipse class="p" style="stroke-width:2.4" cx="483" cy="695" rx="23" ry="33" transform="rotate(25 483 695)"/><ellipse class="n"  cx="485" cy="696" rx="10" ry="15" transform="rotate(25 485 696)"/>
<path class="p" d="M660,782 L705,805 L690,842 L648,818 Z"/><ellipse class="p"  cx="654" cy="800" rx="10" ry="19" transform="rotate(25 654 800)"/>
<path class="p" d="M700,795 L728,800 C745,810 745,840 730,855 L705,862 C690,850 685,815 700,795 Z"/>
<ellipse class="n"  cx="722" cy="830" rx="18" ry="28" transform="rotate(20 722 830)"/><path class="t" d="M700,795 L712,805 M705,862 L715,855"/>
</g>
<g id="chain">
<path class="ld" d="M905,532 L1112,653"/>
<ellipse class="p" cx="920.7" cy="544.2" rx="6.84" ry="11.80" transform="rotate(29.7 920.7 544.2)" />
<path class="p" style="stroke:none" d="M926.5,534.0 L942.7,542.4 L931.1,562.8 L914.9,554.4 Z"/>
<path class="n" d="M926.5,534.0 L942.7,542.4"/><path class="n" d="M914.9,554.4 L931.1,562.8"/>
<ellipse class="p" cx="936.9" cy="552.6" rx="9.69" ry="16.70" transform="rotate(29.7 936.9 552.6)" /><ellipse class="p" cx="936.9" cy="552.6" rx="7.31" ry="12.60" transform="rotate(29.7 936.9 552.6)" />
<path class="ld" d="M928,547.5 L946,558"/>
<ellipse class="p" cx="964.8" cy="568.1" rx="9.69" ry="16.70" transform="rotate(29.7 964.8 568.1)" /><ellipse class="p" cx="969.1" cy="570.6" rx="9.69" ry="16.70" transform="rotate(29.7 969.1 570.6)" /><ellipse class="p" cx="969.1" cy="570.6" rx="7.19" ry="12.40" transform="rotate(29.7 969.1 570.6)" /><ellipse class="t" cx="966.5" cy="569.1" rx="6.67" ry="11.50" transform="rotate(29.7 966.5 569.1)" />
<path class="ld" d="M961,566 L978,575.8"/>
<ellipse class="p" cx="1003.0" cy="589.1" rx="16.53" ry="28.50" transform="rotate(29.7 1003.0 589.1)" />
<path class="n" d="M1017.1,564.4 L1023.2,567.8"/><path class="n" d="M988.9,613.9 L995.0,617.4"/>
<ellipse class="p" cx="1009.1" cy="592.6" rx="16.53" ry="28.50" transform="rotate(29.7 1009.1 592.6)" /><ellipse class="p" cx="1009.1" cy="592.6" rx="11.31" ry="19.50" transform="rotate(29.7 1009.1 592.6)" /><ellipse class="n" cx="1005.6" cy="590.6" rx="10.44" ry="18.00" transform="rotate(29.7 1005.6 590.6)" /><ellipse class="n" cx="1005.6" cy="590.6" rx="8.12" ry="14.00" transform="rotate(29.7 1005.6 590.6)" /><ellipse class="t" cx="1003.0" cy="589.1" rx="6.96" ry="12.00" transform="rotate(29.7 1003.0 589.1)" />
<ellipse class="n"  cx="1019.9" cy="571.2" rx="1.6" ry="2.2" transform="rotate(20 1019.9 571.2)"/>
<ellipse class="n"  cx="996.0" cy="587.5" rx="1.6" ry="2.2" transform="rotate(20 996.0 587.5)"/>
<ellipse class="n"  cx="998.3" cy="614.0" rx="1.6" ry="2.2" transform="rotate(20 998.3 614.0)"/>
<ellipse class="n"  cx="1022.2" cy="597.7" rx="1.6" ry="2.2" transform="rotate(20 1022.2 597.7)"/>
<path class="ld" d="M1000,587.3 L1019,598.4"/>
<ellipse class="p" cx="1047.5" cy="617.2" rx="16.53" ry="28.50" transform="rotate(29.7 1047.5 617.2)" style="stroke-width:2"/><ellipse class="p" cx="1050.1" cy="618.7" rx="16.53" ry="28.50" transform="rotate(29.7 1050.1 618.7)" />
<ellipse class="k" cx="1051.8" cy="619.7" rx="13.92" ry="24.00" transform="rotate(29.7 1051.8 619.7)" />
<path class="k" d="M1063.7,598.8 L1086.2,612.4 L1062.4,654.0 L1039.9,640.5 Z"/>
<ellipse class="p" cx="1074.3" cy="633.2" rx="13.92" ry="24.00" transform="rotate(29.7 1074.3 633.2)" style="stroke-width:1.8"/><ellipse class="p" cx="1074.3" cy="633.2" rx="8.99" ry="15.50" transform="rotate(29.7 1074.3 633.2)" style="stroke-width:3"/><ellipse class="k" cx="1073.0" cy="632.5" rx="6.67" ry="11.50" transform="rotate(29.7 1073.0 632.5)" /><ellipse class="p" cx="1076.0" cy="634.2" rx="5.80" ry="10.00" transform="rotate(29.7 1076.0 634.2)" style="stroke-width:1"/>
<path class="p" d="M1112.0,654.6 L1115.0,639.4 L1106.5,634.5 L1094.9,644.8 L1091.9,660.1 L1100.4,665.0 Z"/><path class="p" d="M1118.1,658.1 L1121.1,642.8 L1112.5,638.0 L1101.0,648.3 L1098.0,663.5 L1106.5,668.4 Z"/>
<path class="n" d="M1115.0,639.4 L1121.1,642.8"/>
<path class="n" d="M1106.5,634.5 L1112.5,638.0"/>
<path class="n" d="M1094.9,644.8 L1101.0,648.3"/>
<path class="n" d="M1091.9,660.1 L1098.0,663.5"/>
<ellipse class="t" cx="1109.5" cy="653.2" rx="7.83" ry="13.50" transform="rotate(29.7 1109.5 653.2)" /><ellipse class="p" cx="1109.5" cy="653.2" rx="6.15" ry="10.60" transform="rotate(29.7 1109.5 653.2)" style="stroke-width:2.4"/><ellipse class="n" cx="1106.9" cy="651.7" rx="5.22" ry="9.00" transform="rotate(29.7 1106.9 651.7)" />
</g>
<g id="plug" transform="translate(810,560) scale(0.10949)">
<path class="k" d="M740,130 L790,115 L940,185 C955,210 950,260 930,290 L880,315 L840,300 L735,215 C725,190 728,150 740,130 Z"/>
<ellipse class="p" style="stroke-width:2" cx="725" cy="148" rx="11" ry="14" transform="rotate(0 725 148)"/>
<ellipse class="k"  cx="900" cy="242" rx="30" ry="48" transform="rotate(25 900 242)"/><ellipse class="p" style="stroke-width:1" cx="902" cy="244" rx="17" ry="33" transform="rotate(25 902 244)"/><ellipse class="t"  cx="906" cy="250" rx="9" ry="20" transform="rotate(25 906 250)"/>
<path class="ld" d="M-60,420 L355,665"/>
<ellipse class="k"  cx="190" cy="573" rx="48" ry="66" transform="rotate(25 190 573)"/><ellipse class="p" style="stroke-width:1" cx="192" cy="573" rx="10" ry="22" transform="rotate(25 192 573)"/>
<path class="p" style="stroke-width:2" d="M482.3,724.6 L429.9,770.9 L365.6,746.3 L353.7,675.4 L406.1,629.1 L470.4,653.7 Z"/>
<ellipse class="n"  cx="425" cy="705" rx="58" ry="60" transform="rotate(0 425 705)"/><ellipse class="k"  cx="430" cy="690" rx="22" ry="22" transform="rotate(0 430 690)"/>
<path class="n" d="M400,640 L405,760 M450,640 L460,655"/>
</g>
<g id="tube" transform="translate(290,400) scale(0.17529)">
<path d="M285,370 L215,405 C150,440 105,500 115,560 C125,630 200,690 340,722 C420,738 520,740 600,712 L680,678 L745,635" style="fill:none;stroke:#1a1a1a;stroke-width:5.6;vector-effect:non-scaling-stroke;stroke-linecap:round"/>
<path d="M285,370 L215,405 C150,440 105,500 115,560 C125,630 200,690 340,722 C420,738 520,740 600,712 L680,678 L745,635" style="fill:none;stroke:#fff;stroke-width:3.2;vector-effect:non-scaling-stroke;stroke-linecap:round"/>
<path class="n" d="M205,392 L225,420 M665,668 L685,695"/>
<g transform="translate(0,0)">
<path class="p" d="M493,130 L493,200 L440,225 L470,300 L535,262 C548,250 548,240 547,225 L547,130 Z"/>
<ellipse class="p" style="stroke-width:1.8" cx="520" cy="130" rx="27" ry="10" transform="rotate(0 520 130)"/><ellipse class="t"  cx="520" cy="130" rx="18" ry="6" transform="rotate(0 520 130)"/>
<path class="n" style="stroke-width:1.8" d="M493,150 C500,160 540,160 547,150 M493,185 C500,195 540,195 547,185 M493,200 C505,215 530,240 535,262"/>
<ellipse class="p" style="stroke-width:2.6" cx="453" cy="265" rx="27" ry="36" transform="rotate(25 453 265)"/><ellipse class="p" style="stroke-width:2" cx="453" cy="268" rx="12" ry="18" transform="rotate(25 453 268)"/>
</g>
<g transform="translate(555,325)">
<path class="p" d="M493,130 L493,200 L440,225 L470,300 L535,262 C548,250 548,240 547,225 L547,130 Z"/>
<ellipse class="p" style="stroke-width:1.8" cx="520" cy="130" rx="27" ry="10" transform="rotate(0 520 130)"/><ellipse class="t"  cx="520" cy="130" rx="18" ry="6" transform="rotate(0 520 130)"/>
<path class="n" style="stroke-width:1.8" d="M493,150 C500,160 540,160 547,150 M493,185 C500,195 540,195 547,185 M493,200 C505,215 530,240 535,262"/>
<ellipse class="p" style="stroke-width:2.6" cx="453" cy="265" rx="27" ry="36" transform="rotate(25 453 265)"/><ellipse class="p" style="stroke-width:2" cx="453" cy="268" rx="12" ry="18" transform="rotate(25 453 268)"/>
</g>
</g>
<g id="bolt711" transform="translate(70,250) scale(0.1972)">
<path class="ld" d="M340,680 L440,615"/>
<path class="p" d="M118,790 L325,662 A10,17 -30 0 1 345,692 L135,820 Z"/>
<ellipse class="p"  cx="335" cy="677" rx="9" ry="17" transform="rotate(-30 335 677)"/>
<ellipse class="p" style="stroke-width:2.4" cx="243" cy="728" rx="14" ry="32" transform="rotate(-25 243 728)"/><ellipse class="p" style="stroke-width:2" cx="222" cy="742" rx="14" ry="32" transform="rotate(-25 222 742)"/>
<path class="p" d="M75,795 L120,770 L140,815 L100,848 Z"/>
<ellipse class="p" style="stroke-width:2" cx="90" cy="825" rx="27" ry="32" transform="rotate(-25 90 825)"/><ellipse class="n"  cx="90" cy="825" rx="14" ry="17" transform="rotate(-25 90 825)"/><ellipse class="k"  cx="90" cy="825" rx="6" ry="8" transform="rotate(-25 90 825)"/>
</g>
<ellipse class="n" style="stroke-width:1.8" cx="268.8" cy="325.9" rx="7.0" ry="8.6" transform="rotate(-20 268.8 325.9)"/><ellipse class="t"  cx="268.8" cy="325.9" rx="5.4" ry="7" transform="rotate(-20 268.8 325.9)"/>
<ellipse class="k"  cx="269" cy="281" rx="2.2" ry="2.4" transform="rotate(0 269 281)"/><ellipse class="k"  cx="269.6" cy="286" rx="2.4" ry="2.6" transform="rotate(0 269.6 286)"/>
<g class="ds">
<path d="M411.5,379.5 L601,488.5"/>
<path d="M711,553 L742,571" style="stroke-dasharray:12 4"/>
<path d="M736,436 L768,454.5" style="stroke-dasharray:14 5"/>
<path d="M842,325 L842,437" style="stroke-dasharray:13 5"/>
<path d="M265.3,444 L265.3,512 M265.3,636 L265.3,660" style="stroke-dasharray:13 5"/>
<path d="M271,304.5 L306.6,284" style="stroke-dasharray:9 5"/>
<path d="M926,452 L943.5,461 L1029,412.6 L1057,428 M1075,438 L1155,484 M1166,490 L1200,509.5"/>
<path d="M906.5,476 L945.7,498 L1031,449.8 L1057,464.5 M1066,470 L1155,521.5 M1166,528 L1200,547"/>
</g>
<path class="ld" d="M241.6,321 L255,313.4"/><text x="1204.5" y="691.5" style="font-size:19.5px;fill:#000" textLength="99" lengthAdjust="spacingAndGlyphs">DETAIL "4"</text>
<g id="detail" transform="translate(1280,700) scale(0.2247)">
<defs>
<linearGradient id="gcone" x1="0" x2="1" y1="0" y2="0"><stop offset="0" stop-color="#f4f4f4"/><stop offset="0.45" stop-color="#d0d3d6"/><stop offset="0.5" stop-color="#9ea4ab"/><stop offset="1" stop-color="#7d858e"/></linearGradient>
<linearGradient id="gcol" x1="0" x2="1" y1="0" y2="0"><stop offset="0" stop-color="#ebebee"/><stop offset="0.35" stop-color="#fbfbfc"/><stop offset="1" stop-color="#f3f3f5"/></linearGradient>
<linearGradient id="gsh" x1="0" x2="0" y1="0" y2="1"><stop offset="0" stop-color="#d6d7db"/><stop offset="1" stop-color="#b4b5bb"/></linearGradient>
</defs>
<rect x="30" y="25" width="465" height="863" fill="#c1c1c1"/>
<rect x="358" y="25" width="137" height="863" fill="#f6f6f8"/>
<rect x="390" y="25" width="105" height="863" fill="url(#gcol)"/>
<path d="M390,210 C420,222 460,222 495,215 L495,272 L390,272 Z" fill="url(#gsh)"/>
<path d="M390,745 C420,730 460,722 495,722 L495,735 C460,735 420,745 395,760 Z" fill="#e6e6ea"/>
<path d="M358,25 L358,888 M390,25 L390,888" stroke="#dcdce2" stroke-width="3" fill="none"/>
<rect x="30" y="272" width="465" height="400" fill="#c9d5df"/>
<!-- seal cavities -->
<path d="M190,178 L340,176 C352,170 356,160 358,145 L358,270 L190,272 Z" fill="#e4eefa" stroke="#8f9bb0" stroke-width="2"/>
<path d="M190,770 L340,770 C352,776 356,786 358,800 L358,676 L190,674 Z" fill="#e4eefa" stroke="#8f9bb0" stroke-width="2"/>
<path d="M200,182 L350,180 L350,200 L268,205 Z" fill="#f7fbff"/>
<path d="M200,764 L350,766 L350,745 L268,740 Z" fill="#f7fbff"/>
<!-- black seals -->
<path d="M30,240 L150,240 C155,238 156,232 156,225 L156,176 L190,176 L190,198 C230,205 270,212 270,224 C270,238 230,246 192,252 L192,272 L30,272 Z" fill="#1b1b1b"/>
<path d="M30,705 L150,705 C155,707 156,713 156,720 L156,770 L190,770 L190,748 C230,741 270,734 270,722 C270,708 230,700 192,694 L192,672 L30,672 Z" fill="#1b1b1b"/>
<!-- shaft end -->
<path d="M30,350 L95,350 L135,368 L135,580 L95,600 L30,600 Z" fill="#ece6dc" stroke="#bdb8b0" stroke-width="2"/>
<path d="M105,368 L135,368 L135,580 L105,580 Z" fill="#8a929b"/>
<path d="M82,470 L135,368 L200,470 L135,580 Z" fill="url(#gcone)"/>
<path d="M82,470 L125,395 L135,470 L125,548 Z" fill="#e9e9ea" opacity="0.8"/>
<rect x="30" y="25" width="465" height="863" fill="none" stroke="#0a0a0a" stroke-width="6"/>
</g>

<g style="filter:grayscale(1)"><g class="ld">
<line x1="380.2" y1="65.9" x2="404.4" y2="127.4"/>
<line x1="302.3" y1="90.4" x2="381.3" y2="195.3"/>
<line x1="251.0" y1="143.0" x2="328.5" y2="257.3"/>
<line x1="112.2" y1="185.7" x2="181.3" y2="307.3"/>
<line x1="108.0" y1="318.9" x2="125.3" y2="388.3"/>
<line x1="611.7" y1="140.4" x2="508.3" y2="243.3"/>
<line x1="713.3" y1="108.8" x2="651.3" y2="291.3"/>
<line x1="186.6" y1="224.2" x2="260.6" y2="317.3"/>
<line x1="233.9" y1="225.0" x2="266.5" y2="278"/>
<line x1="773.0" y1="202.2" x2="748" y2="334"/>
<line x1="848.3" y1="237.5" x2="841.6" y2="317"/>
<line x1="926.1" y1="278.0" x2="909.8" y2="393"/>
<line x1="1072.8" y1="333.3" x2="1082.5" y2="377.5"/>
<line x1="1202.2" y1="398.8" x2="1216.6" y2="517.8"/>
<line x1="399.0" y1="613.4" x2="351.7" y2="526.6"/>
<line x1="489.2" y1="589.2" x2="474.6" y2="501"/>
<line x1="856.4" y1="714.4" x2="899.8" y2="593.4"/>
<line x1="923.1" y1="694.1" x2="924.4" y2="563.7"/>
<line x1="969.6" y1="713.5" x2="958.9" y2="586"/>
<line x1="1025.6" y1="734.0" x2="1006.3" y2="616.8"/>
<line x1="1083.8" y1="759.6" x2="1068.7" y2="654"/>
<line x1="1152.0" y1="761.1" x2="1107.8" y2="664.3"/>
<line x1="1001.9" y1="318.6" x2="917" y2="432"/>
<line x1="335.8" y1="689.5" x2="300" y2="616.5"/>
<line x1="795.3" y1="693.3" x2="851.6" y2="643.8"/>
<polyline points="633.2,568.7 643.5,568.7 714,423"/>
<polyline points="722,619 735,616 786,514"/>
<path d="M913,428 L921,436"/>
</g>
<g class="dot">
<circle cx="404.4" cy="127.4" r="2"/>
<circle cx="381.3" cy="195.3" r="2"/>
<circle cx="328.5" cy="257.3" r="2"/>
<circle cx="181.3" cy="307.3" r="2"/>
<circle cx="125.3" cy="388.3" r="2"/>
<circle cx="508.3" cy="243.3" r="2.3"/>
<circle cx="651.3" cy="291.3" r="2.3"/>
<ellipse cx="841" cy="320.5" rx="4.2" ry="3.3"/><circle cx="714" cy="423" r="2"/><circle cx="786" cy="514" r="1.6"/>
<polygon points="260.6,317.3 254.8,306.0 250.9,309.1"/>
<polygon points="266.5,278.0 262.1,266.0 257.8,268.7"/>
<polygon points="748.0,334.0 752.8,322.2 747.9,321.3"/>
<polygon points="841.6,317.0 845.1,304.8 840.2,304.3"/>
<polygon points="909.8,393.0 914.0,381.0 909.1,380.3"/>
<polygon points="1082.5,377.5 1082.3,364.8 1077.4,365.8"/>
<polygon points="1216.6,517.8 1217.6,505.1 1212.6,505.7"/>
<polygon points="351.7,526.6 355.5,538.8 359.9,536.4"/>
<polygon points="474.6,501.0 474.2,513.7 479.1,512.9"/>
<polygon points="899.8,593.4 894.1,602.0 898.8,603.7"/>
<polygon points="924.4,563.7 921.8,573.7 926.8,573.7"/>
<polygon points="958.9,586.0 957.2,596.2 962.2,595.8"/>
<polygon points="1006.3,616.8 1005.5,627.1 1010.4,626.3"/>
<polygon points="1068.7,654.0 1067.6,664.3 1072.6,663.5"/>
<polygon points="1107.8,664.3 1109.7,674.4 1114.2,672.4"/>
</g>
<g class="bl">
<circle cx="373.4" cy="48.7" r="18.5"/><text x="373.4" y="54.9">22</text>
<circle cx="291.2" cy="75.6" r="18.5"/><text x="291.2" y="81.8">20</text>
<circle cx="240.6" cy="127.7" r="18.5"/><text x="240.6" y="133.9">21</text>
<circle cx="103.1" cy="169.6" r="18.5"/><text x="103.1" y="175.8">25</text>
<circle cx="175.1" cy="209.7" r="18.5"/><text x="175.1" y="215.9">2</text>
<circle cx="224.2" cy="209.2" r="18.5"/><text x="224.2" y="215.4">3</text>
<circle cx="66.5" cy="301" r="18.5"/><text x="66.5" y="307.2">7</text>
<circle cx="103.5" cy="301" r="18.5"/><text x="103.5" y="307.2">11</text>
<circle cx="624.8" cy="127.4" r="18.5"/><text x="624.8" y="133.6">16</text>
<circle cx="719.2" cy="91.3" r="18.5"/><text x="719.2" y="97.5">26</text>
<circle cx="776.5" cy="184" r="18.5"/><text x="776.5" y="190.2">6</text>
<circle cx="849.8" cy="219.1" r="18.5"/><text x="849.8" y="225.3">12</text>
<circle cx="928.7" cy="259.7" r="18.5"/><text x="928.7" y="265.9">9</text>
<circle cx="1013" cy="303.8" r="18.5"/><text x="1013" y="310.0">23</text>
<circle cx="1068.9" cy="315.2" r="18.5"/><text x="1068.9" y="321.4">19</text>
<circle cx="1162.7" cy="380.4" r="18.5"/><text x="1162.7" y="386.6">8</text>
<circle cx="1200" cy="380.4" r="18.5"/><text x="1200" y="386.6">10</text>
<circle cx="407.9" cy="629.6" r="18.5"/><text x="407.9" y="635.8">13</text>
<circle cx="492.2" cy="607.5" r="18.5"/><text x="492.2" y="613.7">14</text>
<circle cx="344" cy="706.1" r="18.5"/><text x="344" y="712.3">24</text>
<circle cx="744.9" cy="705.5" r="18.5"/><text x="744.9" y="711.7">7</text>
<circle cx="781.4" cy="705.5" r="18.5"/><text x="781.4" y="711.7">9</text>
<circle cx="850.1" cy="731.8" r="18.5"/><text x="850.1" y="738.0">1</text>
<circle cx="922.9" cy="712.6" r="18.5"/><text x="922.9" y="718.8">5</text>
<circle cx="971.1" cy="731.9" r="18.5"/><text x="971.1" y="738.1">4</text>
<circle cx="1028.6" cy="752.3" r="18.5"/><text x="1028.6" y="758.5">18</text>
<circle cx="1086.4" cy="777.9" r="18.5"/><text x="1086.4" y="784.1">15</text>
<circle cx="1159.7" cy="777.9" r="18.5"/><text x="1159.7" y="784.1">17</text>
</g>
<g class="tri">
<polygon points="291.0,20.7 271.3,54.45 310.7,54.45"/>
<text x="291.3" y="52.1">G</text>
<polygon points="237.9,72.1 218.5,105.3 257.3,105.3"/>
<text x="238.20000000000002" y="102.9">G</text>
<polygon points="173.2,153.5 153.7,186.8 192.7,186.8"/>
<text x="173.5" y="184.4">G</text>
<polygon points="224.6,152.9 205.1,186.2 244.1,186.2"/>
<text x="224.9" y="183.8">G</text>
<polygon points="83.1,218 63.6,251.4 102.6,251.4"/>
<text x="83.39999999999999" y="249.0">G</text>
<polygon points="625.1,70.4 605.2,104.4 645.0,104.4"/>
<text class="b" x="625.1" y="101.8">GI</text>
<polygon points="776.6,130.5 757.2,163.7 796.0,163.7"/>
<text x="776.9" y="161.3">G</text>
<polygon points="709.8,602 690.2,635.5 729.4,635.5"/>
<text class="b" x="709.8" y="632.9">GI</text>
</g>
<g class="box">
<rect x="54.2" y="257.6" width="56.6" height="20.8"/><text x="82.5" y="274.1">22 Nm</text>
<rect x="905" y="214.7" width="56.4" height="21.0"/><text x="933.2" y="231.4">22 Nm</text>
<rect x="1152.5" y="309.2" width="56.3" height="21.0"/><text x="1180.7" y="325.9">40 Nm</text>
<rect x="818.2" y="754.7" width="55.7" height="20.9"/><text x="846.0" y="771.3">4 Nm</text>
</g>
<g class="flag">
<polygon points="826,188.1 834,177.7 868.7,177.7 876.7,188.1 868.7,198.5 834,198.5"/><text x="851.4" y="194.1">2701</text>
<polygon points="1159.9,347 1168.2,338.7 1194.6000000000001,338.7 1202.9,347 1194.6000000000001,355.3 1168.2,355.3"/><text x="1181.4" y="353">243</text>
<polygon points="590.1,568.7 599.1,559.3000000000001 624.2,559.3000000000001 633.2,568.7 624.2,578.1 599.1,578.1"/><text x="611.7" y="574.7">243</text>
<polygon points="1141.1,807.9 1149.1,799.4 1175.3,799.4 1183.3,807.9 1175.3,816.4 1149.1,816.4"/><text x="1162.2" y="813.9">572</text>
</g></g>
</svg>
</body></html>
